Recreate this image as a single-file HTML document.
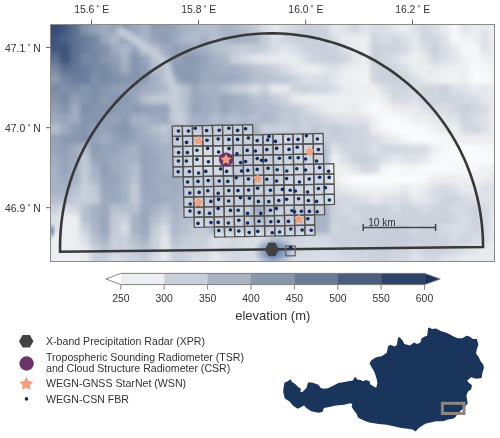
<!DOCTYPE html><html><head><meta charset="utf-8"><style>
html,body{margin:0;padding:0;background:#fff;}
body{width:500px;height:438px;overflow:hidden;position:relative;font-family:"Liberation Sans",sans-serif;}
svg{position:absolute;left:0;top:0;will-change:transform;}
</style></head><body>
<svg width="500" height="438" viewBox="0 0 500 438" font-family="Liberation Sans, sans-serif">
<defs>
<clipPath id="mc"><rect x="50.5" y="24.5" width="444.0" height="237.0"/></clipPath>
<filter id="bl" x="-5%" y="-5%" width="110%" height="110%"><feGaussianBlur stdDeviation="2.5"/></filter>
<radialGradient id="blob"><stop offset="0" stop-color="#2f5594" stop-opacity="0.75"/><stop offset="0.5" stop-color="#4a6ea8" stop-opacity="0.45"/><stop offset="1" stop-color="#7f98c0" stop-opacity="0"/></radialGradient>
<radialGradient id="blob2"><stop offset="0" stop-color="#3d5f96" stop-opacity="0.7"/><stop offset="1" stop-color="#6f8ab5" stop-opacity="0"/></radialGradient>
</defs>
<g clip-path="url(#mc)"><g filter="url(#bl)">
<rect x="40" y="14" width="20" height="20" fill="#354c74"/>
<rect x="60" y="14" width="10" height="20" fill="#43597f"/>
<rect x="70" y="14" width="10" height="20" fill="#5b6f90"/>
<rect x="80" y="14" width="10" height="20" fill="#8595ae"/>
<rect x="90" y="14" width="10" height="20" fill="#95a3b9"/>
<rect x="100" y="14" width="10" height="20" fill="#9fabc0"/>
<rect x="110" y="14" width="10" height="20" fill="#95a3b9"/>
<rect x="120" y="14" width="10" height="20" fill="#8595ae"/>
<rect x="130" y="14" width="10" height="20" fill="#9ba9bd"/>
<rect x="140" y="14" width="10" height="20" fill="#a5b1c4"/>
<rect x="150" y="14" width="10" height="20" fill="#8f9db5"/>
<rect x="160" y="14" width="10" height="20" fill="#92a0b7"/>
<rect x="170" y="14" width="10" height="20" fill="#98a6bb"/>
<rect x="180" y="14" width="10" height="20" fill="#a5b1c4"/>
<rect x="190" y="14" width="10" height="20" fill="#acb7c9"/>
<rect x="200" y="14" width="10" height="20" fill="#b3bdcd"/>
<rect x="210" y="14" width="10" height="20" fill="#b3bdcd"/>
<rect x="220" y="14" width="10" height="20" fill="#a5b1c4"/>
<rect x="230" y="14" width="10" height="20" fill="#acb7c9"/>
<rect x="240" y="14" width="10" height="20" fill="#b7c0d0"/>
<rect x="250" y="14" width="10" height="20" fill="#c2cad6"/>
<rect x="260" y="14" width="10" height="20" fill="#d7dce4"/>
<rect x="270" y="14" width="10" height="20" fill="#e5e8ed"/>
<rect x="280" y="14" width="10" height="20" fill="#dadfe6"/>
<rect x="290" y="14" width="10" height="20" fill="#d0d6df"/>
<rect x="300" y="14" width="10" height="20" fill="#c9d0db"/>
<rect x="310" y="14" width="10" height="20" fill="#c9d0db"/>
<rect x="320" y="14" width="10" height="20" fill="#ccd3dd"/>
<rect x="330" y="14" width="10" height="20" fill="#e5e8ed"/>
<rect x="340" y="14" width="10" height="20" fill="#dee2e8"/>
<rect x="350" y="14" width="10" height="20" fill="#d0d6df"/>
<rect x="360" y="14" width="10" height="20" fill="#e2e5ea"/>
<rect x="370" y="14" width="10" height="20" fill="#dadfe6"/>
<rect x="380" y="14" width="10" height="20" fill="#dadfe6"/>
<rect x="390" y="14" width="10" height="20" fill="#e5e8ed"/>
<rect x="400" y="14" width="10" height="20" fill="#eceef1"/>
<rect x="410" y="14" width="10" height="20" fill="#dee2e8"/>
<rect x="420" y="14" width="10" height="20" fill="#d0d6df"/>
<rect x="430" y="14" width="10" height="20" fill="#dadfe6"/>
<rect x="440" y="14" width="10" height="20" fill="#e8ebef"/>
<rect x="450" y="14" width="10" height="20" fill="#f7f8f9"/>
<rect x="460" y="14" width="10" height="20" fill="#e2e5ea"/>
<rect x="470" y="14" width="10" height="20" fill="#eceef1"/>
<rect x="480" y="14" width="10" height="20" fill="#e2e5ea"/>
<rect x="490" y="14" width="30" height="20" fill="#eceef1"/>
<rect x="40" y="34" width="20" height="10" fill="#3e547b"/>
<rect x="60" y="34" width="10" height="10" fill="#4c6186"/>
<rect x="70" y="34" width="10" height="10" fill="#5b6f90"/>
<rect x="80" y="34" width="10" height="10" fill="#6a7d9b"/>
<rect x="90" y="34" width="10" height="10" fill="#7889a4"/>
<rect x="100" y="34" width="10" height="10" fill="#9ba9bd"/>
<rect x="110" y="34" width="10" height="10" fill="#acb7c9"/>
<rect x="120" y="34" width="10" height="10" fill="#92a0b7"/>
<rect x="130" y="34" width="10" height="10" fill="#9fabc0"/>
<rect x="140" y="34" width="10" height="10" fill="#a9b4c6"/>
<rect x="150" y="34" width="10" height="10" fill="#95a3b9"/>
<rect x="160" y="34" width="10" height="10" fill="#8b9bb2"/>
<rect x="170" y="34" width="10" height="10" fill="#9fabc0"/>
<rect x="180" y="34" width="10" height="10" fill="#acb7c9"/>
<rect x="190" y="34" width="10" height="10" fill="#b3bdcd"/>
<rect x="200" y="34" width="10" height="10" fill="#a5b1c4"/>
<rect x="210" y="34" width="10" height="10" fill="#b7c0d0"/>
<rect x="220" y="34" width="10" height="10" fill="#acb7c9"/>
<rect x="230" y="34" width="10" height="10" fill="#9fabc0"/>
<rect x="240" y="34" width="10" height="10" fill="#a5b1c4"/>
<rect x="250" y="34" width="10" height="10" fill="#a9b4c6"/>
<rect x="260" y="34" width="10" height="10" fill="#c2cad6"/>
<rect x="270" y="34" width="10" height="10" fill="#dadfe6"/>
<rect x="280" y="34" width="10" height="10" fill="#d0d6df"/>
<rect x="290" y="34" width="10" height="10" fill="#c9d0db"/>
<rect x="300" y="34" width="10" height="10" fill="#c9d0db"/>
<rect x="310" y="34" width="10" height="10" fill="#c9d0db"/>
<rect x="320" y="34" width="10" height="10" fill="#c9d0db"/>
<rect x="330" y="34" width="10" height="10" fill="#dadfe6"/>
<rect x="340" y="34" width="10" height="10" fill="#e8ebef"/>
<rect x="350" y="34" width="10" height="10" fill="#e8ebef"/>
<rect x="360" y="34" width="10" height="10" fill="#eceef1"/>
<rect x="370" y="34" width="10" height="10" fill="#d0d6df"/>
<rect x="380" y="34" width="10" height="10" fill="#d7dce4"/>
<rect x="390" y="34" width="10" height="10" fill="#d0d6df"/>
<rect x="400" y="34" width="10" height="10" fill="#dadfe6"/>
<rect x="410" y="34" width="10" height="10" fill="#e5e8ed"/>
<rect x="420" y="34" width="10" height="10" fill="#d0d6df"/>
<rect x="430" y="34" width="10" height="10" fill="#d0d6df"/>
<rect x="440" y="34" width="10" height="10" fill="#dee2e8"/>
<rect x="450" y="34" width="10" height="10" fill="#f7f8f9"/>
<rect x="460" y="34" width="10" height="10" fill="#f2f3f5"/>
<rect x="470" y="34" width="10" height="10" fill="#eceef1"/>
<rect x="480" y="34" width="10" height="10" fill="#dee2e8"/>
<rect x="490" y="34" width="30" height="10" fill="#eceef1"/>
<rect x="40" y="44" width="20" height="10" fill="#43597f"/>
<rect x="60" y="44" width="10" height="10" fill="#3e547b"/>
<rect x="70" y="44" width="10" height="10" fill="#5b6f90"/>
<rect x="80" y="44" width="10" height="10" fill="#6a7d9b"/>
<rect x="90" y="44" width="10" height="10" fill="#7889a4"/>
<rect x="100" y="44" width="10" height="10" fill="#8090aa"/>
<rect x="110" y="44" width="10" height="10" fill="#9fabc0"/>
<rect x="120" y="44" width="10" height="10" fill="#acb7c9"/>
<rect x="130" y="44" width="10" height="10" fill="#95a3b9"/>
<rect x="140" y="44" width="10" height="10" fill="#bec7d4"/>
<rect x="150" y="44" width="10" height="10" fill="#b3bdcd"/>
<rect x="160" y="44" width="10" height="10" fill="#9fabc0"/>
<rect x="170" y="44" width="10" height="10" fill="#92a0b7"/>
<rect x="180" y="44" width="10" height="10" fill="#98a6bb"/>
<rect x="190" y="44" width="10" height="10" fill="#9ba9bd"/>
<rect x="200" y="44" width="10" height="10" fill="#a5b1c4"/>
<rect x="210" y="44" width="10" height="10" fill="#b3bdcd"/>
<rect x="220" y="44" width="10" height="10" fill="#bbc4d2"/>
<rect x="230" y="44" width="10" height="10" fill="#c2cad6"/>
<rect x="240" y="44" width="10" height="10" fill="#c9d0db"/>
<rect x="250" y="44" width="10" height="10" fill="#c2cad6"/>
<rect x="260" y="44" width="10" height="10" fill="#c9d0db"/>
<rect x="270" y="44" width="10" height="10" fill="#d7dce4"/>
<rect x="280" y="44" width="10" height="10" fill="#e2e5ea"/>
<rect x="290" y="44" width="10" height="10" fill="#d7dce4"/>
<rect x="300" y="44" width="10" height="10" fill="#ccd3dd"/>
<rect x="310" y="44" width="10" height="10" fill="#c9d0db"/>
<rect x="320" y="44" width="10" height="10" fill="#c9d0db"/>
<rect x="330" y="44" width="10" height="10" fill="#ccd3dd"/>
<rect x="340" y="44" width="10" height="10" fill="#dadfe6"/>
<rect x="350" y="44" width="10" height="10" fill="#e8ebef"/>
<rect x="360" y="44" width="10" height="10" fill="#eceef1"/>
<rect x="370" y="44" width="10" height="10" fill="#c9d0db"/>
<rect x="380" y="44" width="10" height="10" fill="#ccd3dd"/>
<rect x="390" y="44" width="10" height="10" fill="#ccd3dd"/>
<rect x="400" y="44" width="10" height="10" fill="#d4d9e2"/>
<rect x="410" y="44" width="10" height="10" fill="#e5e8ed"/>
<rect x="420" y="44" width="10" height="10" fill="#dadfe6"/>
<rect x="430" y="44" width="10" height="10" fill="#c9d0db"/>
<rect x="440" y="44" width="10" height="10" fill="#dadfe6"/>
<rect x="450" y="44" width="10" height="10" fill="#e5e8ed"/>
<rect x="460" y="44" width="10" height="10" fill="#f7f8f9"/>
<rect x="470" y="44" width="10" height="10" fill="#f4f5f7"/>
<rect x="480" y="44" width="10" height="10" fill="#dee2e8"/>
<rect x="490" y="44" width="30" height="10" fill="#eceef1"/>
<rect x="40" y="54" width="20" height="10" fill="#5b6f90"/>
<rect x="60" y="54" width="10" height="10" fill="#3e547b"/>
<rect x="70" y="54" width="10" height="10" fill="#5b6f90"/>
<rect x="80" y="54" width="10" height="10" fill="#7889a4"/>
<rect x="90" y="54" width="10" height="10" fill="#7587a3"/>
<rect x="100" y="54" width="10" height="10" fill="#8595ae"/>
<rect x="110" y="54" width="10" height="10" fill="#92a0b7"/>
<rect x="120" y="54" width="10" height="10" fill="#a5b1c4"/>
<rect x="130" y="54" width="10" height="10" fill="#8595ae"/>
<rect x="140" y="54" width="10" height="10" fill="#98a6bb"/>
<rect x="150" y="54" width="10" height="10" fill="#b7c0d0"/>
<rect x="160" y="54" width="10" height="10" fill="#a5b1c4"/>
<rect x="170" y="54" width="10" height="10" fill="#95a3b9"/>
<rect x="180" y="54" width="10" height="10" fill="#8b9bb2"/>
<rect x="190" y="54" width="10" height="10" fill="#8b9bb2"/>
<rect x="200" y="54" width="10" height="10" fill="#95a3b9"/>
<rect x="210" y="54" width="10" height="10" fill="#a5b1c4"/>
<rect x="220" y="54" width="10" height="10" fill="#acb7c9"/>
<rect x="230" y="54" width="10" height="10" fill="#c9d0db"/>
<rect x="240" y="54" width="10" height="10" fill="#d4d9e2"/>
<rect x="250" y="54" width="10" height="10" fill="#e2e5ea"/>
<rect x="260" y="54" width="10" height="10" fill="#e5e8ed"/>
<rect x="270" y="54" width="10" height="10" fill="#e8ebef"/>
<rect x="280" y="54" width="10" height="10" fill="#e8ebef"/>
<rect x="290" y="54" width="10" height="10" fill="#e8ebef"/>
<rect x="300" y="54" width="10" height="10" fill="#dadfe6"/>
<rect x="310" y="54" width="10" height="10" fill="#ccd3dd"/>
<rect x="320" y="54" width="10" height="10" fill="#c9d0db"/>
<rect x="330" y="54" width="10" height="10" fill="#c9d0db"/>
<rect x="340" y="54" width="10" height="10" fill="#d0d6df"/>
<rect x="350" y="54" width="10" height="10" fill="#e2e5ea"/>
<rect x="360" y="54" width="10" height="10" fill="#eceef1"/>
<rect x="370" y="54" width="10" height="10" fill="#c9d0db"/>
<rect x="380" y="54" width="10" height="10" fill="#d0d6df"/>
<rect x="390" y="54" width="10" height="10" fill="#dadfe6"/>
<rect x="400" y="54" width="10" height="10" fill="#e5e8ed"/>
<rect x="410" y="54" width="10" height="10" fill="#f0f1f4"/>
<rect x="420" y="54" width="10" height="10" fill="#e5e8ed"/>
<rect x="430" y="54" width="10" height="10" fill="#d0d6df"/>
<rect x="440" y="54" width="10" height="10" fill="#dadfe6"/>
<rect x="450" y="54" width="10" height="10" fill="#e2e5ea"/>
<rect x="460" y="54" width="10" height="10" fill="#eef0f2"/>
<rect x="470" y="54" width="10" height="10" fill="#f7f8f9"/>
<rect x="480" y="54" width="10" height="10" fill="#eceef1"/>
<rect x="490" y="54" width="30" height="10" fill="#eceef1"/>
<rect x="40" y="64" width="20" height="10" fill="#7889a4"/>
<rect x="60" y="64" width="10" height="10" fill="#5b6f90"/>
<rect x="70" y="64" width="10" height="10" fill="#647797"/>
<rect x="80" y="64" width="10" height="10" fill="#6a7d9b"/>
<rect x="90" y="64" width="10" height="10" fill="#7889a4"/>
<rect x="100" y="64" width="10" height="10" fill="#7889a4"/>
<rect x="110" y="64" width="10" height="10" fill="#8595ae"/>
<rect x="120" y="64" width="10" height="10" fill="#9fabc0"/>
<rect x="130" y="64" width="10" height="10" fill="#8595ae"/>
<rect x="140" y="64" width="10" height="10" fill="#8b9bb2"/>
<rect x="150" y="64" width="10" height="10" fill="#b3bdcd"/>
<rect x="160" y="64" width="10" height="10" fill="#acb7c9"/>
<rect x="170" y="64" width="10" height="10" fill="#8b9bb2"/>
<rect x="180" y="64" width="10" height="10" fill="#8b9bb2"/>
<rect x="190" y="64" width="10" height="10" fill="#8f9db5"/>
<rect x="200" y="64" width="10" height="10" fill="#98a6bb"/>
<rect x="210" y="64" width="10" height="10" fill="#9fabc0"/>
<rect x="220" y="64" width="10" height="10" fill="#a5b1c4"/>
<rect x="230" y="64" width="10" height="10" fill="#a5b1c4"/>
<rect x="240" y="64" width="10" height="10" fill="#acb7c9"/>
<rect x="250" y="64" width="10" height="10" fill="#b7c0d0"/>
<rect x="260" y="64" width="10" height="10" fill="#bec7d4"/>
<rect x="270" y="64" width="10" height="10" fill="#c9d0db"/>
<rect x="280" y="64" width="10" height="10" fill="#d7dce4"/>
<rect x="290" y="64" width="10" height="10" fill="#e5e8ed"/>
<rect x="300" y="64" width="10" height="10" fill="#e8ebef"/>
<rect x="310" y="64" width="10" height="10" fill="#eceef1"/>
<rect x="320" y="64" width="10" height="10" fill="#e2e5ea"/>
<rect x="330" y="64" width="10" height="10" fill="#dee2e8"/>
<rect x="340" y="64" width="10" height="10" fill="#e8ebef"/>
<rect x="350" y="64" width="10" height="10" fill="#eceef1"/>
<rect x="360" y="64" width="10" height="10" fill="#eef0f2"/>
<rect x="370" y="64" width="10" height="10" fill="#d0d6df"/>
<rect x="380" y="64" width="10" height="10" fill="#ccd3dd"/>
<rect x="390" y="64" width="10" height="10" fill="#d0d6df"/>
<rect x="400" y="64" width="10" height="10" fill="#dadfe6"/>
<rect x="410" y="64" width="10" height="10" fill="#e8ebef"/>
<rect x="420" y="64" width="10" height="10" fill="#eceef1"/>
<rect x="430" y="64" width="10" height="10" fill="#e5e8ed"/>
<rect x="440" y="64" width="10" height="10" fill="#eceef1"/>
<rect x="450" y="64" width="10" height="10" fill="#eceef1"/>
<rect x="460" y="64" width="10" height="10" fill="#eef0f2"/>
<rect x="470" y="64" width="10" height="10" fill="#f9fafb"/>
<rect x="480" y="64" width="10" height="10" fill="#f4f5f7"/>
<rect x="490" y="64" width="30" height="10" fill="#f2f3f5"/>
<rect x="40" y="74" width="20" height="10" fill="#8b9bb2"/>
<rect x="60" y="74" width="10" height="10" fill="#7587a3"/>
<rect x="70" y="74" width="10" height="10" fill="#6a7d9b"/>
<rect x="80" y="74" width="10" height="10" fill="#6a7d9b"/>
<rect x="90" y="74" width="10" height="10" fill="#8090aa"/>
<rect x="100" y="74" width="10" height="10" fill="#7889a4"/>
<rect x="110" y="74" width="10" height="10" fill="#8090aa"/>
<rect x="120" y="74" width="10" height="10" fill="#8595ae"/>
<rect x="130" y="74" width="10" height="10" fill="#8595ae"/>
<rect x="140" y="74" width="10" height="10" fill="#8b9bb2"/>
<rect x="150" y="74" width="10" height="10" fill="#a5b1c4"/>
<rect x="160" y="74" width="10" height="10" fill="#b7c0d0"/>
<rect x="170" y="74" width="10" height="10" fill="#95a3b9"/>
<rect x="180" y="74" width="10" height="10" fill="#8b9bb2"/>
<rect x="190" y="74" width="10" height="10" fill="#8b9bb2"/>
<rect x="200" y="74" width="10" height="10" fill="#9fabc0"/>
<rect x="210" y="74" width="10" height="10" fill="#9ba9bd"/>
<rect x="220" y="74" width="10" height="10" fill="#9ba9bd"/>
<rect x="230" y="74" width="10" height="10" fill="#9fabc0"/>
<rect x="240" y="74" width="10" height="10" fill="#a5b1c4"/>
<rect x="250" y="74" width="10" height="10" fill="#b3bdcd"/>
<rect x="260" y="74" width="10" height="10" fill="#b7c0d0"/>
<rect x="270" y="74" width="10" height="10" fill="#bbc4d2"/>
<rect x="280" y="74" width="10" height="10" fill="#bec7d4"/>
<rect x="290" y="74" width="10" height="10" fill="#c9d0db"/>
<rect x="300" y="74" width="10" height="10" fill="#dadfe6"/>
<rect x="310" y="74" width="10" height="10" fill="#dadfe6"/>
<rect x="320" y="74" width="10" height="10" fill="#d7dce4"/>
<rect x="330" y="74" width="10" height="10" fill="#e5e8ed"/>
<rect x="340" y="74" width="10" height="10" fill="#eceef1"/>
<rect x="350" y="74" width="10" height="10" fill="#f0f1f4"/>
<rect x="360" y="74" width="10" height="10" fill="#f2f3f5"/>
<rect x="370" y="74" width="10" height="10" fill="#d0d6df"/>
<rect x="380" y="74" width="10" height="10" fill="#c9d0db"/>
<rect x="390" y="74" width="10" height="10" fill="#c9d0db"/>
<rect x="400" y="74" width="10" height="10" fill="#d0d6df"/>
<rect x="410" y="74" width="10" height="10" fill="#dadfe6"/>
<rect x="420" y="74" width="10" height="10" fill="#e5e8ed"/>
<rect x="430" y="74" width="10" height="10" fill="#eceef1"/>
<rect x="440" y="74" width="10" height="10" fill="#f0f1f4"/>
<rect x="450" y="74" width="10" height="10" fill="#f0f1f4"/>
<rect x="460" y="74" width="10" height="10" fill="#eceef1"/>
<rect x="470" y="74" width="10" height="10" fill="#f9fafb"/>
<rect x="480" y="74" width="10" height="10" fill="#f9fafb"/>
<rect x="490" y="74" width="30" height="10" fill="#f7f8f9"/>
<rect x="40" y="84" width="20" height="10" fill="#7889a4"/>
<rect x="60" y="84" width="10" height="10" fill="#8090aa"/>
<rect x="70" y="84" width="10" height="10" fill="#7d8ea8"/>
<rect x="80" y="84" width="10" height="10" fill="#8595ae"/>
<rect x="90" y="84" width="10" height="10" fill="#7d8ea8"/>
<rect x="100" y="84" width="10" height="10" fill="#8595ae"/>
<rect x="110" y="84" width="10" height="10" fill="#8f9db5"/>
<rect x="120" y="84" width="10" height="10" fill="#92a0b7"/>
<rect x="130" y="84" width="10" height="10" fill="#95a3b9"/>
<rect x="140" y="84" width="10" height="10" fill="#9fabc0"/>
<rect x="150" y="84" width="10" height="10" fill="#a5b1c4"/>
<rect x="160" y="84" width="10" height="10" fill="#b0bacb"/>
<rect x="170" y="84" width="10" height="10" fill="#c5cdd9"/>
<rect x="180" y="84" width="10" height="10" fill="#b7c0d0"/>
<rect x="190" y="84" width="10" height="10" fill="#9ba9bd"/>
<rect x="200" y="84" width="10" height="10" fill="#a5b1c4"/>
<rect x="210" y="84" width="10" height="10" fill="#a5b1c4"/>
<rect x="220" y="84" width="10" height="10" fill="#b3bdcd"/>
<rect x="230" y="84" width="10" height="10" fill="#c2cad6"/>
<rect x="240" y="84" width="10" height="10" fill="#c9d0db"/>
<rect x="250" y="84" width="10" height="10" fill="#d7dce4"/>
<rect x="260" y="84" width="10" height="10" fill="#c9d0db"/>
<rect x="270" y="84" width="10" height="10" fill="#e5e8ed"/>
<rect x="280" y="84" width="10" height="10" fill="#e5e8ed"/>
<rect x="290" y="84" width="10" height="10" fill="#d0d6df"/>
<rect x="300" y="84" width="10" height="10" fill="#c9d0db"/>
<rect x="310" y="84" width="10" height="10" fill="#d0d6df"/>
<rect x="320" y="84" width="10" height="10" fill="#d0d6df"/>
<rect x="330" y="84" width="10" height="10" fill="#dadfe6"/>
<rect x="340" y="84" width="10" height="10" fill="#e8ebef"/>
<rect x="350" y="84" width="10" height="10" fill="#eceef1"/>
<rect x="360" y="84" width="10" height="10" fill="#eceef1"/>
<rect x="370" y="84" width="10" height="10" fill="#eceef1"/>
<rect x="380" y="84" width="10" height="10" fill="#dadfe6"/>
<rect x="390" y="84" width="10" height="10" fill="#d0d6df"/>
<rect x="400" y="84" width="10" height="10" fill="#d0d6df"/>
<rect x="410" y="84" width="10" height="10" fill="#d7dce4"/>
<rect x="420" y="84" width="10" height="10" fill="#d0d6df"/>
<rect x="430" y="84" width="10" height="10" fill="#d0d6df"/>
<rect x="440" y="84" width="10" height="10" fill="#c9d0db"/>
<rect x="450" y="84" width="10" height="10" fill="#dadfe6"/>
<rect x="460" y="84" width="10" height="10" fill="#dee2e8"/>
<rect x="470" y="84" width="10" height="10" fill="#e8ebef"/>
<rect x="480" y="84" width="10" height="10" fill="#e2e5ea"/>
<rect x="490" y="84" width="30" height="10" fill="#eceef1"/>
<rect x="40" y="94" width="20" height="10" fill="#8595ae"/>
<rect x="60" y="94" width="10" height="10" fill="#7a8ba6"/>
<rect x="70" y="94" width="10" height="10" fill="#92a0b7"/>
<rect x="80" y="94" width="10" height="10" fill="#8595ae"/>
<rect x="90" y="94" width="10" height="10" fill="#8090aa"/>
<rect x="100" y="94" width="10" height="10" fill="#8b9bb2"/>
<rect x="110" y="94" width="10" height="10" fill="#8595ae"/>
<rect x="120" y="94" width="10" height="10" fill="#8b9bb2"/>
<rect x="130" y="94" width="10" height="10" fill="#98a6bb"/>
<rect x="140" y="94" width="10" height="10" fill="#b3bdcd"/>
<rect x="150" y="94" width="10" height="10" fill="#bec7d4"/>
<rect x="160" y="94" width="10" height="10" fill="#c2cad6"/>
<rect x="170" y="94" width="10" height="10" fill="#c9d0db"/>
<rect x="180" y="94" width="10" height="10" fill="#b3bdcd"/>
<rect x="190" y="94" width="10" height="10" fill="#98a6bb"/>
<rect x="200" y="94" width="10" height="10" fill="#9fabc0"/>
<rect x="210" y="94" width="10" height="10" fill="#a5b1c4"/>
<rect x="220" y="94" width="10" height="10" fill="#98a6bb"/>
<rect x="230" y="94" width="10" height="10" fill="#9fabc0"/>
<rect x="240" y="94" width="10" height="10" fill="#a5b1c4"/>
<rect x="250" y="94" width="10" height="10" fill="#b7c0d0"/>
<rect x="260" y="94" width="10" height="10" fill="#b7c0d0"/>
<rect x="270" y="94" width="10" height="10" fill="#c2cad6"/>
<rect x="280" y="94" width="10" height="10" fill="#d0d6df"/>
<rect x="290" y="94" width="10" height="10" fill="#e5e8ed"/>
<rect x="300" y="94" width="10" height="10" fill="#eceef1"/>
<rect x="310" y="94" width="10" height="10" fill="#eceef1"/>
<rect x="320" y="94" width="10" height="10" fill="#eceef1"/>
<rect x="330" y="94" width="10" height="10" fill="#eceef1"/>
<rect x="340" y="94" width="10" height="10" fill="#eceef1"/>
<rect x="350" y="94" width="10" height="10" fill="#eceef1"/>
<rect x="360" y="94" width="10" height="10" fill="#f0f1f4"/>
<rect x="370" y="94" width="10" height="10" fill="#f2f3f5"/>
<rect x="380" y="94" width="10" height="10" fill="#e8ebef"/>
<rect x="390" y="94" width="10" height="10" fill="#d4d9e2"/>
<rect x="400" y="94" width="10" height="10" fill="#d7dce4"/>
<rect x="410" y="94" width="10" height="10" fill="#dadfe6"/>
<rect x="420" y="94" width="10" height="10" fill="#d0d6df"/>
<rect x="430" y="94" width="10" height="10" fill="#d0d6df"/>
<rect x="440" y="94" width="10" height="10" fill="#ccd3dd"/>
<rect x="450" y="94" width="10" height="10" fill="#d0d6df"/>
<rect x="460" y="94" width="10" height="10" fill="#d4d9e2"/>
<rect x="470" y="94" width="10" height="10" fill="#d7dce4"/>
<rect x="480" y="94" width="10" height="10" fill="#e5e8ed"/>
<rect x="490" y="94" width="30" height="10" fill="#e8ebef"/>
<rect x="40" y="104" width="20" height="10" fill="#92a0b7"/>
<rect x="60" y="104" width="10" height="10" fill="#8595ae"/>
<rect x="70" y="104" width="10" height="10" fill="#9fabc0"/>
<rect x="80" y="104" width="10" height="10" fill="#7d8ea8"/>
<rect x="90" y="104" width="10" height="10" fill="#8595ae"/>
<rect x="100" y="104" width="10" height="10" fill="#8595ae"/>
<rect x="110" y="104" width="10" height="10" fill="#8b9bb2"/>
<rect x="120" y="104" width="10" height="10" fill="#92a0b7"/>
<rect x="130" y="104" width="10" height="10" fill="#8b9bb2"/>
<rect x="140" y="104" width="10" height="10" fill="#92a0b7"/>
<rect x="150" y="104" width="10" height="10" fill="#95a3b9"/>
<rect x="160" y="104" width="10" height="10" fill="#95a3b9"/>
<rect x="170" y="104" width="10" height="10" fill="#c2cad6"/>
<rect x="180" y="104" width="10" height="10" fill="#b3bdcd"/>
<rect x="190" y="104" width="10" height="10" fill="#95a3b9"/>
<rect x="200" y="104" width="10" height="10" fill="#9fabc0"/>
<rect x="210" y="104" width="10" height="10" fill="#a5b1c4"/>
<rect x="220" y="104" width="10" height="10" fill="#98a6bb"/>
<rect x="230" y="104" width="10" height="10" fill="#a5b1c4"/>
<rect x="240" y="104" width="10" height="10" fill="#a5b1c4"/>
<rect x="250" y="104" width="10" height="10" fill="#acb7c9"/>
<rect x="260" y="104" width="10" height="10" fill="#b3bdcd"/>
<rect x="270" y="104" width="10" height="10" fill="#b3bdcd"/>
<rect x="280" y="104" width="10" height="10" fill="#bec7d4"/>
<rect x="290" y="104" width="10" height="10" fill="#c2cad6"/>
<rect x="300" y="104" width="10" height="10" fill="#d0d6df"/>
<rect x="310" y="104" width="10" height="10" fill="#dee2e8"/>
<rect x="320" y="104" width="10" height="10" fill="#e8ebef"/>
<rect x="330" y="104" width="10" height="10" fill="#eceef1"/>
<rect x="340" y="104" width="10" height="10" fill="#eceef1"/>
<rect x="350" y="104" width="10" height="10" fill="#e8ebef"/>
<rect x="360" y="104" width="10" height="10" fill="#f4f5f7"/>
<rect x="370" y="104" width="10" height="10" fill="#f9fafb"/>
<rect x="380" y="104" width="10" height="10" fill="#f4f5f7"/>
<rect x="390" y="104" width="10" height="10" fill="#eceef1"/>
<rect x="400" y="104" width="10" height="10" fill="#e5e8ed"/>
<rect x="410" y="104" width="10" height="10" fill="#e8ebef"/>
<rect x="420" y="104" width="10" height="10" fill="#dee2e8"/>
<rect x="430" y="104" width="10" height="10" fill="#d4d9e2"/>
<rect x="440" y="104" width="10" height="10" fill="#dadfe6"/>
<rect x="450" y="104" width="10" height="10" fill="#d0d6df"/>
<rect x="460" y="104" width="10" height="10" fill="#c9d0db"/>
<rect x="470" y="104" width="10" height="10" fill="#d0d6df"/>
<rect x="480" y="104" width="10" height="10" fill="#d7dce4"/>
<rect x="490" y="104" width="30" height="10" fill="#e8ebef"/>
<rect x="40" y="114" width="20" height="10" fill="#9ba9bd"/>
<rect x="60" y="114" width="10" height="10" fill="#95a3b9"/>
<rect x="70" y="114" width="10" height="10" fill="#9fabc0"/>
<rect x="80" y="114" width="10" height="10" fill="#8595ae"/>
<rect x="90" y="114" width="10" height="10" fill="#8595ae"/>
<rect x="100" y="114" width="10" height="10" fill="#8f9db5"/>
<rect x="110" y="114" width="10" height="10" fill="#95a3b9"/>
<rect x="120" y="114" width="10" height="10" fill="#8b9bb2"/>
<rect x="130" y="114" width="10" height="10" fill="#a5b1c4"/>
<rect x="140" y="114" width="10" height="10" fill="#a5b1c4"/>
<rect x="150" y="114" width="10" height="10" fill="#9fabc0"/>
<rect x="160" y="114" width="10" height="10" fill="#98a6bb"/>
<rect x="170" y="114" width="10" height="10" fill="#c2cad6"/>
<rect x="180" y="114" width="10" height="10" fill="#b3bdcd"/>
<rect x="190" y="114" width="10" height="10" fill="#a5b1c4"/>
<rect x="200" y="114" width="10" height="10" fill="#a5b1c4"/>
<rect x="210" y="114" width="10" height="10" fill="#b3bdcd"/>
<rect x="220" y="114" width="10" height="10" fill="#acb7c9"/>
<rect x="230" y="114" width="10" height="10" fill="#b7c0d0"/>
<rect x="240" y="114" width="10" height="10" fill="#acb7c9"/>
<rect x="250" y="114" width="10" height="10" fill="#b7c0d0"/>
<rect x="260" y="114" width="10" height="10" fill="#acb7c9"/>
<rect x="270" y="114" width="10" height="10" fill="#b3bdcd"/>
<rect x="280" y="114" width="10" height="10" fill="#c2cad6"/>
<rect x="290" y="114" width="10" height="10" fill="#bec7d4"/>
<rect x="300" y="114" width="10" height="10" fill="#c9d0db"/>
<rect x="310" y="114" width="10" height="10" fill="#c9d0db"/>
<rect x="320" y="114" width="10" height="10" fill="#d0d6df"/>
<rect x="330" y="114" width="10" height="10" fill="#dadfe6"/>
<rect x="340" y="114" width="10" height="10" fill="#dee2e8"/>
<rect x="350" y="114" width="10" height="10" fill="#dee2e8"/>
<rect x="360" y="114" width="10" height="10" fill="#e2e5ea"/>
<rect x="370" y="114" width="10" height="10" fill="#f0f1f4"/>
<rect x="380" y="114" width="10" height="10" fill="#f9fafb"/>
<rect x="390" y="114" width="10" height="10" fill="#f9fafb"/>
<rect x="400" y="114" width="10" height="10" fill="#f6f6f8"/>
<rect x="410" y="114" width="10" height="10" fill="#eceef1"/>
<rect x="420" y="114" width="10" height="10" fill="#eceef1"/>
<rect x="430" y="114" width="10" height="10" fill="#e5e8ed"/>
<rect x="440" y="114" width="10" height="10" fill="#e2e5ea"/>
<rect x="450" y="114" width="10" height="10" fill="#dee2e8"/>
<rect x="460" y="114" width="10" height="10" fill="#ccd3dd"/>
<rect x="470" y="114" width="10" height="10" fill="#d7dce4"/>
<rect x="480" y="114" width="10" height="10" fill="#dee2e8"/>
<rect x="490" y="114" width="30" height="10" fill="#eceef1"/>
<rect x="40" y="124" width="20" height="10" fill="#b3bdcd"/>
<rect x="60" y="124" width="10" height="10" fill="#9fabc0"/>
<rect x="70" y="124" width="10" height="10" fill="#8b9bb2"/>
<rect x="80" y="124" width="10" height="10" fill="#8595ae"/>
<rect x="90" y="124" width="10" height="10" fill="#92a0b7"/>
<rect x="100" y="124" width="10" height="10" fill="#95a3b9"/>
<rect x="110" y="124" width="10" height="10" fill="#8b9bb2"/>
<rect x="120" y="124" width="10" height="10" fill="#8595ae"/>
<rect x="130" y="124" width="10" height="10" fill="#98a6bb"/>
<rect x="140" y="124" width="10" height="10" fill="#a5b1c4"/>
<rect x="150" y="124" width="10" height="10" fill="#b3bdcd"/>
<rect x="160" y="124" width="10" height="10" fill="#bec7d4"/>
<rect x="170" y="124" width="10" height="10" fill="#a9b4c6"/>
<rect x="180" y="124" width="10" height="10" fill="#a9b4c6"/>
<rect x="190" y="124" width="10" height="10" fill="#a9b4c6"/>
<rect x="200" y="124" width="10" height="10" fill="#a9b4c6"/>
<rect x="210" y="124" width="10" height="10" fill="#a9b4c6"/>
<rect x="220" y="124" width="10" height="10" fill="#a9b4c6"/>
<rect x="230" y="124" width="10" height="10" fill="#a9b4c6"/>
<rect x="240" y="124" width="10" height="10" fill="#a9b4c6"/>
<rect x="250" y="124" width="10" height="10" fill="#a9b4c6"/>
<rect x="260" y="124" width="10" height="10" fill="#c9d0db"/>
<rect x="270" y="124" width="10" height="10" fill="#c9d0db"/>
<rect x="280" y="124" width="10" height="10" fill="#c9d0db"/>
<rect x="290" y="124" width="10" height="10" fill="#c2cad6"/>
<rect x="300" y="124" width="10" height="10" fill="#c9d0db"/>
<rect x="310" y="124" width="10" height="10" fill="#bec7d4"/>
<rect x="320" y="124" width="10" height="10" fill="#c9d0db"/>
<rect x="330" y="124" width="10" height="10" fill="#c2cad6"/>
<rect x="340" y="124" width="10" height="10" fill="#c9d0db"/>
<rect x="350" y="124" width="10" height="10" fill="#d0d6df"/>
<rect x="360" y="124" width="10" height="10" fill="#d0d6df"/>
<rect x="370" y="124" width="10" height="10" fill="#eceef1"/>
<rect x="380" y="124" width="10" height="10" fill="#f4f5f7"/>
<rect x="390" y="124" width="10" height="10" fill="#fbfcfc"/>
<rect x="400" y="124" width="10" height="10" fill="#fbfcfc"/>
<rect x="410" y="124" width="10" height="10" fill="#f9fafb"/>
<rect x="420" y="124" width="10" height="10" fill="#f6f6f8"/>
<rect x="430" y="124" width="10" height="10" fill="#eef0f2"/>
<rect x="440" y="124" width="10" height="10" fill="#e5e8ed"/>
<rect x="450" y="124" width="10" height="10" fill="#eceef1"/>
<rect x="460" y="124" width="10" height="10" fill="#d4d9e2"/>
<rect x="470" y="124" width="10" height="10" fill="#d0d6df"/>
<rect x="480" y="124" width="10" height="10" fill="#dadfe6"/>
<rect x="490" y="124" width="30" height="10" fill="#eceef1"/>
<rect x="40" y="134" width="20" height="10" fill="#95a3b9"/>
<rect x="60" y="134" width="10" height="10" fill="#8b9bb2"/>
<rect x="70" y="134" width="10" height="10" fill="#8595ae"/>
<rect x="80" y="134" width="10" height="10" fill="#8595ae"/>
<rect x="90" y="134" width="10" height="10" fill="#95a3b9"/>
<rect x="100" y="134" width="10" height="10" fill="#9fabc0"/>
<rect x="110" y="134" width="10" height="10" fill="#95a3b9"/>
<rect x="120" y="134" width="10" height="10" fill="#8b9bb2"/>
<rect x="130" y="134" width="10" height="10" fill="#95a3b9"/>
<rect x="140" y="134" width="10" height="10" fill="#9fabc0"/>
<rect x="150" y="134" width="10" height="10" fill="#a5b1c4"/>
<rect x="160" y="134" width="10" height="10" fill="#b3bdcd"/>
<rect x="170" y="134" width="10" height="10" fill="#a9b4c6"/>
<rect x="180" y="134" width="10" height="10" fill="#a9b4c6"/>
<rect x="190" y="134" width="10" height="10" fill="#a9b4c6"/>
<rect x="200" y="134" width="10" height="10" fill="#a9b4c6"/>
<rect x="210" y="134" width="10" height="10" fill="#a9b4c6"/>
<rect x="220" y="134" width="10" height="10" fill="#a9b4c6"/>
<rect x="230" y="134" width="10" height="10" fill="#a9b4c6"/>
<rect x="240" y="134" width="10" height="10" fill="#a9b4c6"/>
<rect x="250" y="134" width="10" height="10" fill="#a9b4c6"/>
<rect x="260" y="134" width="10" height="10" fill="#a9b4c6"/>
<rect x="270" y="134" width="10" height="10" fill="#a9b4c6"/>
<rect x="280" y="134" width="10" height="10" fill="#b7c0d0"/>
<rect x="290" y="134" width="10" height="10" fill="#b7c0d0"/>
<rect x="300" y="134" width="10" height="10" fill="#b7c0d0"/>
<rect x="310" y="134" width="10" height="10" fill="#b7c0d0"/>
<rect x="320" y="134" width="10" height="10" fill="#c9d0db"/>
<rect x="330" y="134" width="10" height="10" fill="#c9d0db"/>
<rect x="340" y="134" width="10" height="10" fill="#c9d0db"/>
<rect x="350" y="134" width="10" height="10" fill="#d0d6df"/>
<rect x="360" y="134" width="10" height="10" fill="#d0d6df"/>
<rect x="370" y="134" width="10" height="10" fill="#d7dce4"/>
<rect x="380" y="134" width="10" height="10" fill="#e2e5ea"/>
<rect x="390" y="134" width="10" height="10" fill="#eceef1"/>
<rect x="400" y="134" width="10" height="10" fill="#f4f5f7"/>
<rect x="410" y="134" width="10" height="10" fill="#f9fafb"/>
<rect x="420" y="134" width="10" height="10" fill="#fbfcfc"/>
<rect x="430" y="134" width="10" height="10" fill="#f9fafb"/>
<rect x="440" y="134" width="10" height="10" fill="#f6f6f8"/>
<rect x="450" y="134" width="10" height="10" fill="#eceef1"/>
<rect x="460" y="134" width="10" height="10" fill="#eceef1"/>
<rect x="470" y="134" width="10" height="10" fill="#eceef1"/>
<rect x="480" y="134" width="10" height="10" fill="#eceef1"/>
<rect x="490" y="134" width="30" height="10" fill="#eceef1"/>
<rect x="40" y="144" width="20" height="10" fill="#95a3b9"/>
<rect x="60" y="144" width="10" height="10" fill="#92a0b7"/>
<rect x="70" y="144" width="10" height="10" fill="#9fabc0"/>
<rect x="80" y="144" width="10" height="10" fill="#b3bdcd"/>
<rect x="90" y="144" width="10" height="10" fill="#8b9bb2"/>
<rect x="100" y="144" width="10" height="10" fill="#95a3b9"/>
<rect x="110" y="144" width="10" height="10" fill="#95a3b9"/>
<rect x="120" y="144" width="10" height="10" fill="#9fabc0"/>
<rect x="130" y="144" width="10" height="10" fill="#a5b1c4"/>
<rect x="140" y="144" width="10" height="10" fill="#95a3b9"/>
<rect x="150" y="144" width="10" height="10" fill="#9fabc0"/>
<rect x="160" y="144" width="10" height="10" fill="#a5b1c4"/>
<rect x="170" y="144" width="10" height="10" fill="#a9b4c6"/>
<rect x="180" y="144" width="10" height="10" fill="#a9b4c6"/>
<rect x="190" y="144" width="10" height="10" fill="#c2cad6"/>
<rect x="200" y="144" width="10" height="10" fill="#c2cad6"/>
<rect x="210" y="144" width="10" height="10" fill="#c2cad6"/>
<rect x="220" y="144" width="10" height="10" fill="#c2cad6"/>
<rect x="230" y="144" width="10" height="10" fill="#a9b4c6"/>
<rect x="240" y="144" width="10" height="10" fill="#a9b4c6"/>
<rect x="250" y="144" width="10" height="10" fill="#a9b4c6"/>
<rect x="260" y="144" width="10" height="10" fill="#a9b4c6"/>
<rect x="270" y="144" width="10" height="10" fill="#a9b4c6"/>
<rect x="280" y="144" width="10" height="10" fill="#b7c0d0"/>
<rect x="290" y="144" width="10" height="10" fill="#b7c0d0"/>
<rect x="300" y="144" width="10" height="10" fill="#b7c0d0"/>
<rect x="310" y="144" width="10" height="10" fill="#b7c0d0"/>
<rect x="320" y="144" width="10" height="10" fill="#b7c0d0"/>
<rect x="330" y="144" width="10" height="10" fill="#dee2e8"/>
<rect x="340" y="144" width="10" height="10" fill="#d0d6df"/>
<rect x="350" y="144" width="10" height="10" fill="#d0d6df"/>
<rect x="360" y="144" width="10" height="10" fill="#d0d6df"/>
<rect x="370" y="144" width="10" height="10" fill="#dadfe6"/>
<rect x="380" y="144" width="10" height="10" fill="#d0d6df"/>
<rect x="390" y="144" width="10" height="10" fill="#d0d6df"/>
<rect x="400" y="144" width="10" height="10" fill="#d4d9e2"/>
<rect x="410" y="144" width="10" height="10" fill="#d7dce4"/>
<rect x="420" y="144" width="10" height="10" fill="#d7dce4"/>
<rect x="430" y="144" width="10" height="10" fill="#eceef1"/>
<rect x="440" y="144" width="10" height="10" fill="#f7f8f9"/>
<rect x="450" y="144" width="10" height="10" fill="#f9fafb"/>
<rect x="460" y="144" width="10" height="10" fill="#f9fafb"/>
<rect x="470" y="144" width="10" height="10" fill="#f9fafb"/>
<rect x="480" y="144" width="10" height="10" fill="#f7f8f9"/>
<rect x="490" y="144" width="30" height="10" fill="#f7f8f9"/>
<rect x="40" y="154" width="20" height="10" fill="#9fabc0"/>
<rect x="60" y="154" width="10" height="10" fill="#95a3b9"/>
<rect x="70" y="154" width="10" height="10" fill="#9fabc0"/>
<rect x="80" y="154" width="10" height="10" fill="#bec7d4"/>
<rect x="90" y="154" width="10" height="10" fill="#95a3b9"/>
<rect x="100" y="154" width="10" height="10" fill="#95a3b9"/>
<rect x="110" y="154" width="10" height="10" fill="#9fabc0"/>
<rect x="120" y="154" width="10" height="10" fill="#a5b1c4"/>
<rect x="130" y="154" width="10" height="10" fill="#a5b1c4"/>
<rect x="140" y="154" width="10" height="10" fill="#95a3b9"/>
<rect x="150" y="154" width="10" height="10" fill="#98a6bb"/>
<rect x="160" y="154" width="10" height="10" fill="#a5b1c4"/>
<rect x="170" y="154" width="10" height="10" fill="#a9b4c6"/>
<rect x="180" y="154" width="10" height="10" fill="#a9b4c6"/>
<rect x="190" y="154" width="10" height="10" fill="#c2cad6"/>
<rect x="200" y="154" width="10" height="10" fill="#c2cad6"/>
<rect x="210" y="154" width="10" height="10" fill="#c2cad6"/>
<rect x="220" y="154" width="10" height="10" fill="#c2cad6"/>
<rect x="230" y="154" width="10" height="10" fill="#a9b4c6"/>
<rect x="240" y="154" width="10" height="10" fill="#a9b4c6"/>
<rect x="250" y="154" width="10" height="10" fill="#a9b4c6"/>
<rect x="260" y="154" width="10" height="10" fill="#a9b4c6"/>
<rect x="270" y="154" width="10" height="10" fill="#a9b4c6"/>
<rect x="280" y="154" width="10" height="10" fill="#b7c0d0"/>
<rect x="290" y="154" width="10" height="10" fill="#b7c0d0"/>
<rect x="300" y="154" width="10" height="10" fill="#b7c0d0"/>
<rect x="310" y="154" width="10" height="10" fill="#b7c0d0"/>
<rect x="320" y="154" width="10" height="10" fill="#b7c0d0"/>
<rect x="330" y="154" width="10" height="10" fill="#eceef1"/>
<rect x="340" y="154" width="10" height="10" fill="#dadfe6"/>
<rect x="350" y="154" width="10" height="10" fill="#c9d0db"/>
<rect x="360" y="154" width="10" height="10" fill="#c9d0db"/>
<rect x="370" y="154" width="10" height="10" fill="#d0d6df"/>
<rect x="380" y="154" width="10" height="10" fill="#dadfe6"/>
<rect x="390" y="154" width="10" height="10" fill="#e5e8ed"/>
<rect x="400" y="154" width="10" height="10" fill="#dee2e8"/>
<rect x="410" y="154" width="10" height="10" fill="#dee2e8"/>
<rect x="420" y="154" width="10" height="10" fill="#e5e8ed"/>
<rect x="430" y="154" width="10" height="10" fill="#f6f6f8"/>
<rect x="440" y="154" width="10" height="10" fill="#f9fafb"/>
<rect x="450" y="154" width="10" height="10" fill="#f9fafb"/>
<rect x="460" y="154" width="10" height="10" fill="#f9fafb"/>
<rect x="470" y="154" width="10" height="10" fill="#f9fafb"/>
<rect x="480" y="154" width="10" height="10" fill="#f9fafb"/>
<rect x="490" y="154" width="30" height="10" fill="#f9fafb"/>
<rect x="40" y="164" width="20" height="10" fill="#a5b1c4"/>
<rect x="60" y="164" width="10" height="10" fill="#95a3b9"/>
<rect x="70" y="164" width="10" height="10" fill="#a5b1c4"/>
<rect x="80" y="164" width="10" height="10" fill="#c2cad6"/>
<rect x="90" y="164" width="10" height="10" fill="#a5b1c4"/>
<rect x="100" y="164" width="10" height="10" fill="#8f9db5"/>
<rect x="110" y="164" width="10" height="10" fill="#9fabc0"/>
<rect x="120" y="164" width="10" height="10" fill="#a5b1c4"/>
<rect x="130" y="164" width="10" height="10" fill="#b3bdcd"/>
<rect x="140" y="164" width="10" height="10" fill="#95a3b9"/>
<rect x="150" y="164" width="10" height="10" fill="#9ba9bd"/>
<rect x="160" y="164" width="10" height="10" fill="#a5b1c4"/>
<rect x="170" y="164" width="10" height="10" fill="#a9b4c6"/>
<rect x="180" y="164" width="10" height="10" fill="#a9b4c6"/>
<rect x="190" y="164" width="10" height="10" fill="#c2cad6"/>
<rect x="200" y="164" width="10" height="10" fill="#c2cad6"/>
<rect x="210" y="164" width="10" height="10" fill="#c2cad6"/>
<rect x="220" y="164" width="10" height="10" fill="#c2cad6"/>
<rect x="230" y="164" width="10" height="10" fill="#a9b4c6"/>
<rect x="240" y="164" width="10" height="10" fill="#a9b4c6"/>
<rect x="250" y="164" width="10" height="10" fill="#a9b4c6"/>
<rect x="260" y="164" width="10" height="10" fill="#a9b4c6"/>
<rect x="270" y="164" width="10" height="10" fill="#a9b4c6"/>
<rect x="280" y="164" width="10" height="10" fill="#b7c0d0"/>
<rect x="290" y="164" width="10" height="10" fill="#b7c0d0"/>
<rect x="300" y="164" width="10" height="10" fill="#b7c0d0"/>
<rect x="310" y="164" width="10" height="10" fill="#b7c0d0"/>
<rect x="320" y="164" width="10" height="10" fill="#b7c0d0"/>
<rect x="330" y="164" width="10" height="10" fill="#eceef1"/>
<rect x="340" y="164" width="10" height="10" fill="#eceef1"/>
<rect x="350" y="164" width="10" height="10" fill="#e2e5ea"/>
<rect x="360" y="164" width="10" height="10" fill="#d0d6df"/>
<rect x="370" y="164" width="10" height="10" fill="#d7dce4"/>
<rect x="380" y="164" width="10" height="10" fill="#f4f5f7"/>
<rect x="390" y="164" width="10" height="10" fill="#f9fafb"/>
<rect x="400" y="164" width="10" height="10" fill="#f6f6f8"/>
<rect x="410" y="164" width="10" height="10" fill="#f4f5f7"/>
<rect x="420" y="164" width="10" height="10" fill="#f9fafb"/>
<rect x="430" y="164" width="10" height="10" fill="#f9fafb"/>
<rect x="440" y="164" width="10" height="10" fill="#f9fafb"/>
<rect x="450" y="164" width="10" height="10" fill="#f6f6f8"/>
<rect x="460" y="164" width="10" height="10" fill="#f6f6f8"/>
<rect x="470" y="164" width="10" height="10" fill="#f6f6f8"/>
<rect x="480" y="164" width="10" height="10" fill="#f0f1f4"/>
<rect x="490" y="164" width="30" height="10" fill="#f0f1f4"/>
<rect x="40" y="174" width="20" height="10" fill="#a5b1c4"/>
<rect x="60" y="174" width="10" height="10" fill="#9fabc0"/>
<rect x="70" y="174" width="10" height="10" fill="#a5b1c4"/>
<rect x="80" y="174" width="10" height="10" fill="#c2cad6"/>
<rect x="90" y="174" width="10" height="10" fill="#acb7c9"/>
<rect x="100" y="174" width="10" height="10" fill="#95a3b9"/>
<rect x="110" y="174" width="10" height="10" fill="#95a3b9"/>
<rect x="120" y="174" width="10" height="10" fill="#a5b1c4"/>
<rect x="130" y="174" width="10" height="10" fill="#b7c0d0"/>
<rect x="140" y="174" width="10" height="10" fill="#95a3b9"/>
<rect x="150" y="174" width="10" height="10" fill="#9fabc0"/>
<rect x="160" y="174" width="10" height="10" fill="#9fabc0"/>
<rect x="170" y="174" width="10" height="10" fill="#9fabc0"/>
<rect x="180" y="174" width="10" height="10" fill="#a9b4c6"/>
<rect x="190" y="174" width="10" height="10" fill="#a9b4c6"/>
<rect x="200" y="174" width="10" height="10" fill="#a9b4c6"/>
<rect x="210" y="174" width="10" height="10" fill="#a9b4c6"/>
<rect x="220" y="174" width="10" height="10" fill="#a9b4c6"/>
<rect x="230" y="174" width="10" height="10" fill="#a9b4c6"/>
<rect x="240" y="174" width="10" height="10" fill="#a9b4c6"/>
<rect x="250" y="174" width="10" height="10" fill="#a9b4c6"/>
<rect x="260" y="174" width="10" height="10" fill="#a9b4c6"/>
<rect x="270" y="174" width="10" height="10" fill="#a9b4c6"/>
<rect x="280" y="174" width="10" height="10" fill="#b7c0d0"/>
<rect x="290" y="174" width="10" height="10" fill="#b7c0d0"/>
<rect x="300" y="174" width="10" height="10" fill="#b7c0d0"/>
<rect x="310" y="174" width="10" height="10" fill="#b7c0d0"/>
<rect x="320" y="174" width="10" height="10" fill="#b7c0d0"/>
<rect x="330" y="174" width="10" height="10" fill="#eceef1"/>
<rect x="340" y="174" width="10" height="10" fill="#f6f6f8"/>
<rect x="350" y="174" width="10" height="10" fill="#fbfcfc"/>
<rect x="360" y="174" width="10" height="10" fill="#fbfcfc"/>
<rect x="370" y="174" width="10" height="10" fill="#fbfcfc"/>
<rect x="380" y="174" width="10" height="10" fill="#fbfcfc"/>
<rect x="390" y="174" width="10" height="10" fill="#fbfcfc"/>
<rect x="400" y="174" width="10" height="10" fill="#f9fafb"/>
<rect x="410" y="174" width="10" height="10" fill="#f9fafb"/>
<rect x="420" y="174" width="10" height="10" fill="#f7f8f9"/>
<rect x="430" y="174" width="10" height="10" fill="#eceef1"/>
<rect x="440" y="174" width="10" height="10" fill="#eceef1"/>
<rect x="450" y="174" width="10" height="10" fill="#eceef1"/>
<rect x="460" y="174" width="10" height="10" fill="#eef0f2"/>
<rect x="470" y="174" width="10" height="10" fill="#eef0f2"/>
<rect x="480" y="174" width="10" height="10" fill="#eceef1"/>
<rect x="490" y="174" width="30" height="10" fill="#e5e8ed"/>
<rect x="40" y="184" width="20" height="10" fill="#a5b1c4"/>
<rect x="60" y="184" width="10" height="10" fill="#a5b1c4"/>
<rect x="70" y="184" width="10" height="10" fill="#b7c0d0"/>
<rect x="80" y="184" width="10" height="10" fill="#c9d0db"/>
<rect x="90" y="184" width="10" height="10" fill="#bec7d4"/>
<rect x="100" y="184" width="10" height="10" fill="#95a3b9"/>
<rect x="110" y="184" width="10" height="10" fill="#9ba9bd"/>
<rect x="120" y="184" width="10" height="10" fill="#a5b1c4"/>
<rect x="130" y="184" width="10" height="10" fill="#c2cad6"/>
<rect x="140" y="184" width="10" height="10" fill="#98a6bb"/>
<rect x="150" y="184" width="10" height="10" fill="#9ba9bd"/>
<rect x="160" y="184" width="10" height="10" fill="#a5b1c4"/>
<rect x="170" y="184" width="10" height="10" fill="#9fabc0"/>
<rect x="180" y="184" width="10" height="10" fill="#a9b4c6"/>
<rect x="190" y="184" width="10" height="10" fill="#a9b4c6"/>
<rect x="200" y="184" width="10" height="10" fill="#a9b4c6"/>
<rect x="210" y="184" width="10" height="10" fill="#a9b4c6"/>
<rect x="220" y="184" width="10" height="10" fill="#a9b4c6"/>
<rect x="230" y="184" width="10" height="10" fill="#a9b4c6"/>
<rect x="240" y="184" width="10" height="10" fill="#a9b4c6"/>
<rect x="250" y="184" width="10" height="10" fill="#a9b4c6"/>
<rect x="260" y="184" width="10" height="10" fill="#a9b4c6"/>
<rect x="270" y="184" width="10" height="10" fill="#a9b4c6"/>
<rect x="280" y="184" width="10" height="10" fill="#b7c0d0"/>
<rect x="290" y="184" width="10" height="10" fill="#b7c0d0"/>
<rect x="300" y="184" width="10" height="10" fill="#b7c0d0"/>
<rect x="310" y="184" width="10" height="10" fill="#b7c0d0"/>
<rect x="320" y="184" width="10" height="10" fill="#b7c0d0"/>
<rect x="330" y="184" width="10" height="10" fill="#dce0e7"/>
<rect x="340" y="184" width="10" height="10" fill="#e7eaee"/>
<rect x="350" y="184" width="10" height="10" fill="#edeff2"/>
<rect x="360" y="184" width="10" height="10" fill="#f1f2f4"/>
<rect x="370" y="184" width="10" height="10" fill="#f1f2f4"/>
<rect x="380" y="184" width="10" height="10" fill="#f1f2f4"/>
<rect x="390" y="184" width="10" height="10" fill="#edeff2"/>
<rect x="400" y="184" width="10" height="10" fill="#e7eaee"/>
<rect x="410" y="184" width="10" height="10" fill="#f1f2f4"/>
<rect x="420" y="184" width="10" height="10" fill="#e7eaee"/>
<rect x="430" y="184" width="10" height="10" fill="#d9dee5"/>
<rect x="440" y="184" width="10" height="10" fill="#d5dae3"/>
<rect x="450" y="184" width="10" height="10" fill="#dce0e7"/>
<rect x="460" y="184" width="10" height="10" fill="#e7eaee"/>
<rect x="470" y="184" width="10" height="10" fill="#e7eaee"/>
<rect x="480" y="184" width="10" height="10" fill="#d9dee5"/>
<rect x="490" y="184" width="30" height="10" fill="#dce0e7"/>
<rect x="40" y="194" width="20" height="10" fill="#b3bdcd"/>
<rect x="60" y="194" width="10" height="10" fill="#b3bdcd"/>
<rect x="70" y="194" width="10" height="10" fill="#c2cad6"/>
<rect x="80" y="194" width="10" height="10" fill="#c9d0db"/>
<rect x="90" y="194" width="10" height="10" fill="#c2cad6"/>
<rect x="100" y="194" width="10" height="10" fill="#9fabc0"/>
<rect x="110" y="194" width="10" height="10" fill="#98a6bb"/>
<rect x="120" y="194" width="10" height="10" fill="#a5b1c4"/>
<rect x="130" y="194" width="10" height="10" fill="#c2cad6"/>
<rect x="140" y="194" width="10" height="10" fill="#9fabc0"/>
<rect x="150" y="194" width="10" height="10" fill="#98a6bb"/>
<rect x="160" y="194" width="10" height="10" fill="#9fabc0"/>
<rect x="170" y="194" width="10" height="10" fill="#a5b1c4"/>
<rect x="180" y="194" width="10" height="10" fill="#a9b4c6"/>
<rect x="190" y="194" width="10" height="10" fill="#a9b4c6"/>
<rect x="200" y="194" width="10" height="10" fill="#a9b4c6"/>
<rect x="210" y="194" width="10" height="10" fill="#a9b4c6"/>
<rect x="220" y="194" width="10" height="10" fill="#a9b4c6"/>
<rect x="230" y="194" width="10" height="10" fill="#a9b4c6"/>
<rect x="240" y="194" width="10" height="10" fill="#a9b4c6"/>
<rect x="250" y="194" width="10" height="10" fill="#a9b4c6"/>
<rect x="260" y="194" width="10" height="10" fill="#a9b4c6"/>
<rect x="270" y="194" width="10" height="10" fill="#a9b4c6"/>
<rect x="280" y="194" width="10" height="10" fill="#b7c0d0"/>
<rect x="290" y="194" width="10" height="10" fill="#b7c0d0"/>
<rect x="300" y="194" width="10" height="10" fill="#b7c0d0"/>
<rect x="310" y="194" width="10" height="10" fill="#b7c0d0"/>
<rect x="320" y="194" width="10" height="10" fill="#b7c0d0"/>
<rect x="330" y="194" width="10" height="10" fill="#d2d8e0"/>
<rect x="340" y="194" width="10" height="10" fill="#d2d8e0"/>
<rect x="350" y="194" width="10" height="10" fill="#d9dee5"/>
<rect x="360" y="194" width="10" height="10" fill="#dce0e7"/>
<rect x="370" y="194" width="10" height="10" fill="#e7eaee"/>
<rect x="380" y="194" width="10" height="10" fill="#dce0e7"/>
<rect x="390" y="194" width="10" height="10" fill="#dce0e7"/>
<rect x="400" y="194" width="10" height="10" fill="#d5dae3"/>
<rect x="410" y="194" width="10" height="10" fill="#e7eaee"/>
<rect x="420" y="194" width="10" height="10" fill="#e3e6ec"/>
<rect x="430" y="194" width="10" height="10" fill="#d9dee5"/>
<rect x="440" y="194" width="10" height="10" fill="#ced4de"/>
<rect x="450" y="194" width="10" height="10" fill="#ced4de"/>
<rect x="460" y="194" width="10" height="10" fill="#d5dae3"/>
<rect x="470" y="194" width="10" height="10" fill="#dce0e7"/>
<rect x="480" y="194" width="10" height="10" fill="#e0e4e9"/>
<rect x="490" y="194" width="30" height="10" fill="#e0e4e9"/>
<rect x="40" y="204" width="20" height="10" fill="#c9d0db"/>
<rect x="60" y="204" width="10" height="10" fill="#d7dce4"/>
<rect x="70" y="204" width="10" height="10" fill="#d0d6df"/>
<rect x="80" y="204" width="10" height="10" fill="#b7c0d0"/>
<rect x="90" y="204" width="10" height="10" fill="#a5b1c4"/>
<rect x="100" y="204" width="10" height="10" fill="#9ba9bd"/>
<rect x="110" y="204" width="10" height="10" fill="#b7c0d0"/>
<rect x="120" y="204" width="10" height="10" fill="#b3bdcd"/>
<rect x="130" y="204" width="10" height="10" fill="#b7c0d0"/>
<rect x="140" y="204" width="10" height="10" fill="#9ba9bd"/>
<rect x="150" y="204" width="10" height="10" fill="#a5b1c4"/>
<rect x="160" y="204" width="10" height="10" fill="#b3bdcd"/>
<rect x="170" y="204" width="10" height="10" fill="#a5b1c4"/>
<rect x="180" y="204" width="10" height="10" fill="#b3bdcd"/>
<rect x="190" y="204" width="10" height="10" fill="#a9b4c6"/>
<rect x="200" y="204" width="10" height="10" fill="#a9b4c6"/>
<rect x="210" y="204" width="10" height="10" fill="#a9b4c6"/>
<rect x="220" y="204" width="10" height="10" fill="#a9b4c6"/>
<rect x="230" y="204" width="10" height="10" fill="#a9b4c6"/>
<rect x="240" y="204" width="10" height="10" fill="#a9b4c6"/>
<rect x="250" y="204" width="10" height="10" fill="#8b9bb2"/>
<rect x="260" y="204" width="10" height="10" fill="#8b9bb2"/>
<rect x="270" y="204" width="10" height="10" fill="#a9b4c6"/>
<rect x="280" y="204" width="10" height="10" fill="#a9b4c6"/>
<rect x="290" y="204" width="10" height="10" fill="#a9b4c6"/>
<rect x="300" y="204" width="10" height="10" fill="#a9b4c6"/>
<rect x="310" y="204" width="10" height="10" fill="#a9b4c6"/>
<rect x="320" y="204" width="10" height="10" fill="#a9b4c6"/>
<rect x="330" y="204" width="10" height="10" fill="#cbd2dc"/>
<rect x="340" y="204" width="10" height="10" fill="#d5dae3"/>
<rect x="350" y="204" width="10" height="10" fill="#ced4de"/>
<rect x="360" y="204" width="10" height="10" fill="#cbd2dc"/>
<rect x="370" y="204" width="10" height="10" fill="#cbd2dc"/>
<rect x="380" y="204" width="10" height="10" fill="#cbd2dc"/>
<rect x="390" y="204" width="10" height="10" fill="#d5dae3"/>
<rect x="400" y="204" width="10" height="10" fill="#cbd2dc"/>
<rect x="410" y="204" width="10" height="10" fill="#ced4de"/>
<rect x="420" y="204" width="10" height="10" fill="#d5dae3"/>
<rect x="430" y="204" width="10" height="10" fill="#ced4de"/>
<rect x="440" y="204" width="10" height="10" fill="#cbd2dc"/>
<rect x="450" y="204" width="10" height="10" fill="#d5dae3"/>
<rect x="460" y="204" width="10" height="10" fill="#d2d8e0"/>
<rect x="470" y="204" width="10" height="10" fill="#ced4de"/>
<rect x="480" y="204" width="10" height="10" fill="#d5dae3"/>
<rect x="490" y="204" width="30" height="10" fill="#e0e4e9"/>
<rect x="40" y="214" width="20" height="10" fill="#dadfe6"/>
<rect x="60" y="214" width="10" height="10" fill="#eceef1"/>
<rect x="70" y="214" width="10" height="10" fill="#eceef1"/>
<rect x="80" y="214" width="10" height="10" fill="#b7c0d0"/>
<rect x="90" y="214" width="10" height="10" fill="#a5b1c4"/>
<rect x="100" y="214" width="10" height="10" fill="#98a6bb"/>
<rect x="110" y="214" width="10" height="10" fill="#c2cad6"/>
<rect x="120" y="214" width="10" height="10" fill="#c9d0db"/>
<rect x="130" y="214" width="10" height="10" fill="#a5b1c4"/>
<rect x="140" y="214" width="10" height="10" fill="#98a6bb"/>
<rect x="150" y="214" width="10" height="10" fill="#b3bdcd"/>
<rect x="160" y="214" width="10" height="10" fill="#c2cad6"/>
<rect x="170" y="214" width="10" height="10" fill="#acb7c9"/>
<rect x="180" y="214" width="10" height="10" fill="#b3bdcd"/>
<rect x="190" y="214" width="10" height="10" fill="#b7c0d0"/>
<rect x="200" y="214" width="10" height="10" fill="#a9b4c6"/>
<rect x="210" y="214" width="10" height="10" fill="#a9b4c6"/>
<rect x="220" y="214" width="10" height="10" fill="#a9b4c6"/>
<rect x="230" y="214" width="10" height="10" fill="#a9b4c6"/>
<rect x="240" y="214" width="10" height="10" fill="#a9b4c6"/>
<rect x="250" y="214" width="10" height="10" fill="#8b9bb2"/>
<rect x="260" y="214" width="10" height="10" fill="#8b9bb2"/>
<rect x="270" y="214" width="10" height="10" fill="#a9b4c6"/>
<rect x="280" y="214" width="10" height="10" fill="#a9b4c6"/>
<rect x="290" y="214" width="10" height="10" fill="#a9b4c6"/>
<rect x="300" y="214" width="10" height="10" fill="#a9b4c6"/>
<rect x="310" y="214" width="10" height="10" fill="#a9b4c6"/>
<rect x="320" y="214" width="10" height="10" fill="#a9b4c6"/>
<rect x="330" y="214" width="10" height="10" fill="#cbd2dc"/>
<rect x="340" y="214" width="10" height="10" fill="#cbd2dc"/>
<rect x="350" y="214" width="10" height="10" fill="#d5dae3"/>
<rect x="360" y="214" width="10" height="10" fill="#cbd2dc"/>
<rect x="370" y="214" width="10" height="10" fill="#c7ceda"/>
<rect x="380" y="214" width="10" height="10" fill="#cbd2dc"/>
<rect x="390" y="214" width="10" height="10" fill="#cbd2dc"/>
<rect x="400" y="214" width="10" height="10" fill="#cbd2dc"/>
<rect x="410" y="214" width="10" height="10" fill="#cbd2dc"/>
<rect x="420" y="214" width="10" height="10" fill="#cbd2dc"/>
<rect x="430" y="214" width="10" height="10" fill="#cbd2dc"/>
<rect x="440" y="214" width="10" height="10" fill="#cbd2dc"/>
<rect x="450" y="214" width="10" height="10" fill="#ced4de"/>
<rect x="460" y="214" width="10" height="10" fill="#d9dee5"/>
<rect x="470" y="214" width="10" height="10" fill="#ced4de"/>
<rect x="480" y="214" width="10" height="10" fill="#d5dae3"/>
<rect x="490" y="214" width="30" height="10" fill="#e7eaee"/>
<rect x="40" y="224" width="20" height="10" fill="#dadfe6"/>
<rect x="60" y="224" width="10" height="10" fill="#eceef1"/>
<rect x="70" y="224" width="10" height="10" fill="#eceef1"/>
<rect x="80" y="224" width="10" height="10" fill="#c9d0db"/>
<rect x="90" y="224" width="10" height="10" fill="#acb7c9"/>
<rect x="100" y="224" width="10" height="10" fill="#98a6bb"/>
<rect x="110" y="224" width="10" height="10" fill="#c2cad6"/>
<rect x="120" y="224" width="10" height="10" fill="#d7dce4"/>
<rect x="130" y="224" width="10" height="10" fill="#a5b1c4"/>
<rect x="140" y="224" width="10" height="10" fill="#9ba9bd"/>
<rect x="150" y="224" width="10" height="10" fill="#c2cad6"/>
<rect x="160" y="224" width="10" height="10" fill="#d7dce4"/>
<rect x="170" y="224" width="10" height="10" fill="#acb7c9"/>
<rect x="180" y="224" width="10" height="10" fill="#b7c0d0"/>
<rect x="190" y="224" width="10" height="10" fill="#c2cad6"/>
<rect x="200" y="224" width="10" height="10" fill="#c2cad6"/>
<rect x="210" y="224" width="10" height="10" fill="#a9b4c6"/>
<rect x="220" y="224" width="10" height="10" fill="#a9b4c6"/>
<rect x="230" y="224" width="10" height="10" fill="#a9b4c6"/>
<rect x="240" y="224" width="10" height="10" fill="#a9b4c6"/>
<rect x="250" y="224" width="10" height="10" fill="#a9b4c6"/>
<rect x="260" y="224" width="10" height="10" fill="#a9b4c6"/>
<rect x="270" y="224" width="10" height="10" fill="#a9b4c6"/>
<rect x="280" y="224" width="10" height="10" fill="#a9b4c6"/>
<rect x="290" y="224" width="10" height="10" fill="#a9b4c6"/>
<rect x="300" y="224" width="10" height="10" fill="#a9b4c6"/>
<rect x="310" y="224" width="10" height="10" fill="#a9b4c6"/>
<rect x="320" y="224" width="10" height="10" fill="#a9b4c6"/>
<rect x="330" y="224" width="10" height="10" fill="#d2d8e0"/>
<rect x="340" y="224" width="10" height="10" fill="#cbd2dc"/>
<rect x="350" y="224" width="10" height="10" fill="#c7ceda"/>
<rect x="360" y="224" width="10" height="10" fill="#cbd2dc"/>
<rect x="370" y="224" width="10" height="10" fill="#cbd2dc"/>
<rect x="380" y="224" width="10" height="10" fill="#c7ceda"/>
<rect x="390" y="224" width="10" height="10" fill="#c7ceda"/>
<rect x="400" y="224" width="10" height="10" fill="#c7ceda"/>
<rect x="410" y="224" width="10" height="10" fill="#d5dae3"/>
<rect x="420" y="224" width="10" height="10" fill="#cbd2dc"/>
<rect x="430" y="224" width="10" height="10" fill="#cbd2dc"/>
<rect x="440" y="224" width="10" height="10" fill="#d5dae3"/>
<rect x="450" y="224" width="10" height="10" fill="#d9dee5"/>
<rect x="460" y="224" width="10" height="10" fill="#d5dae3"/>
<rect x="470" y="224" width="10" height="10" fill="#ced4de"/>
<rect x="480" y="224" width="10" height="10" fill="#d5dae3"/>
<rect x="490" y="224" width="30" height="10" fill="#e7eaee"/>
<rect x="40" y="234" width="20" height="10" fill="#eceef1"/>
<rect x="60" y="234" width="10" height="10" fill="#eceef1"/>
<rect x="70" y="234" width="10" height="10" fill="#eceef1"/>
<rect x="80" y="234" width="10" height="10" fill="#dadfe6"/>
<rect x="90" y="234" width="10" height="10" fill="#b7c0d0"/>
<rect x="100" y="234" width="10" height="10" fill="#a5b1c4"/>
<rect x="110" y="234" width="10" height="10" fill="#c9d0db"/>
<rect x="120" y="234" width="10" height="10" fill="#c9d0db"/>
<rect x="130" y="234" width="10" height="10" fill="#b3bdcd"/>
<rect x="140" y="234" width="10" height="10" fill="#a5b1c4"/>
<rect x="150" y="234" width="10" height="10" fill="#c9d0db"/>
<rect x="160" y="234" width="10" height="10" fill="#e2e5ea"/>
<rect x="170" y="234" width="10" height="10" fill="#b7c0d0"/>
<rect x="180" y="234" width="10" height="10" fill="#c2cad6"/>
<rect x="190" y="234" width="10" height="10" fill="#c9d0db"/>
<rect x="200" y="234" width="10" height="10" fill="#c9d0db"/>
<rect x="210" y="234" width="10" height="10" fill="#dadfe6"/>
<rect x="220" y="234" width="10" height="10" fill="#dadfe6"/>
<rect x="230" y="234" width="10" height="10" fill="#d0d6df"/>
<rect x="240" y="234" width="10" height="10" fill="#dadfe6"/>
<rect x="250" y="234" width="10" height="10" fill="#dadfe6"/>
<rect x="260" y="234" width="10" height="10" fill="#d0d6df"/>
<rect x="270" y="234" width="10" height="10" fill="#bec7d4"/>
<rect x="280" y="234" width="10" height="10" fill="#c2cad6"/>
<rect x="290" y="234" width="10" height="10" fill="#d0d6df"/>
<rect x="300" y="234" width="10" height="10" fill="#d4d9e2"/>
<rect x="310" y="234" width="10" height="10" fill="#d4d9e2"/>
<rect x="320" y="234" width="10" height="10" fill="#d4d9e2"/>
<rect x="330" y="234" width="10" height="10" fill="#cbd2dc"/>
<rect x="340" y="234" width="10" height="10" fill="#cbd2dc"/>
<rect x="350" y="234" width="10" height="10" fill="#cbd2dc"/>
<rect x="360" y="234" width="10" height="10" fill="#c7ceda"/>
<rect x="370" y="234" width="10" height="10" fill="#c7ceda"/>
<rect x="380" y="234" width="10" height="10" fill="#c7ceda"/>
<rect x="390" y="234" width="10" height="10" fill="#c7ceda"/>
<rect x="400" y="234" width="10" height="10" fill="#c7ceda"/>
<rect x="410" y="234" width="10" height="10" fill="#cbd2dc"/>
<rect x="420" y="234" width="10" height="10" fill="#cbd2dc"/>
<rect x="430" y="234" width="10" height="10" fill="#cbd2dc"/>
<rect x="440" y="234" width="10" height="10" fill="#ced4de"/>
<rect x="450" y="234" width="10" height="10" fill="#d5dae3"/>
<rect x="460" y="234" width="10" height="10" fill="#ced4de"/>
<rect x="470" y="234" width="10" height="10" fill="#d5dae3"/>
<rect x="480" y="234" width="10" height="10" fill="#d9dee5"/>
<rect x="490" y="234" width="30" height="10" fill="#e7eaee"/>
<rect x="40" y="244" width="20" height="10" fill="#eceef1"/>
<rect x="60" y="244" width="10" height="10" fill="#eceef1"/>
<rect x="70" y="244" width="10" height="10" fill="#eceef1"/>
<rect x="80" y="244" width="10" height="10" fill="#e5e8ed"/>
<rect x="90" y="244" width="10" height="10" fill="#c9d0db"/>
<rect x="100" y="244" width="10" height="10" fill="#b7c0d0"/>
<rect x="110" y="244" width="10" height="10" fill="#c9d0db"/>
<rect x="120" y="244" width="10" height="10" fill="#c9d0db"/>
<rect x="130" y="244" width="10" height="10" fill="#c2cad6"/>
<rect x="140" y="244" width="10" height="10" fill="#b7c0d0"/>
<rect x="150" y="244" width="10" height="10" fill="#c9d0db"/>
<rect x="160" y="244" width="10" height="10" fill="#e2e5ea"/>
<rect x="170" y="244" width="10" height="10" fill="#c2cad6"/>
<rect x="180" y="244" width="10" height="10" fill="#c9d0db"/>
<rect x="190" y="244" width="10" height="10" fill="#c9d0db"/>
<rect x="200" y="244" width="10" height="10" fill="#d0d6df"/>
<rect x="210" y="244" width="10" height="10" fill="#dee2e8"/>
<rect x="220" y="244" width="10" height="10" fill="#d0d6df"/>
<rect x="230" y="244" width="10" height="10" fill="#d0d6df"/>
<rect x="240" y="244" width="10" height="10" fill="#dadfe6"/>
<rect x="250" y="244" width="10" height="10" fill="#dadfe6"/>
<rect x="260" y="244" width="10" height="10" fill="#c2cad6"/>
<rect x="270" y="244" width="10" height="10" fill="#b7c0d0"/>
<rect x="280" y="244" width="10" height="10" fill="#bec7d4"/>
<rect x="290" y="244" width="10" height="10" fill="#d0d6df"/>
<rect x="300" y="244" width="10" height="10" fill="#d4d9e2"/>
<rect x="310" y="244" width="10" height="10" fill="#d7dce4"/>
<rect x="320" y="244" width="10" height="10" fill="#d7dce4"/>
<rect x="330" y="244" width="10" height="10" fill="#d5dae3"/>
<rect x="340" y="244" width="10" height="10" fill="#cbd2dc"/>
<rect x="350" y="244" width="10" height="10" fill="#ced4de"/>
<rect x="360" y="244" width="10" height="10" fill="#ced4de"/>
<rect x="370" y="244" width="10" height="10" fill="#cbd2dc"/>
<rect x="380" y="244" width="10" height="10" fill="#c7ceda"/>
<rect x="390" y="244" width="10" height="10" fill="#cbd2dc"/>
<rect x="400" y="244" width="10" height="10" fill="#cbd2dc"/>
<rect x="410" y="244" width="10" height="10" fill="#d5dae3"/>
<rect x="420" y="244" width="10" height="10" fill="#ced4de"/>
<rect x="430" y="244" width="10" height="10" fill="#cbd2dc"/>
<rect x="440" y="244" width="10" height="10" fill="#cbd2dc"/>
<rect x="450" y="244" width="10" height="10" fill="#d2d8e0"/>
<rect x="460" y="244" width="10" height="10" fill="#d9dee5"/>
<rect x="470" y="244" width="10" height="10" fill="#e0e4e9"/>
<rect x="480" y="244" width="10" height="10" fill="#e7eaee"/>
<rect x="490" y="244" width="30" height="10" fill="#e7eaee"/>
<rect x="40" y="254" width="20" height="30" fill="#eceef1"/>
<rect x="60" y="254" width="10" height="30" fill="#eceef1"/>
<rect x="70" y="254" width="10" height="30" fill="#eceef1"/>
<rect x="80" y="254" width="10" height="30" fill="#e8ebef"/>
<rect x="90" y="254" width="10" height="30" fill="#c9d0db"/>
<rect x="100" y="254" width="10" height="30" fill="#c9d0db"/>
<rect x="110" y="254" width="10" height="30" fill="#dadfe6"/>
<rect x="120" y="254" width="10" height="30" fill="#d0d6df"/>
<rect x="130" y="254" width="10" height="30" fill="#c9d0db"/>
<rect x="140" y="254" width="10" height="30" fill="#c2cad6"/>
<rect x="150" y="254" width="10" height="30" fill="#d7dce4"/>
<rect x="160" y="254" width="10" height="30" fill="#e5e8ed"/>
<rect x="170" y="254" width="10" height="30" fill="#c9d0db"/>
<rect x="180" y="254" width="10" height="30" fill="#c9d0db"/>
<rect x="190" y="254" width="10" height="30" fill="#d7dce4"/>
<rect x="200" y="254" width="10" height="30" fill="#d7dce4"/>
<rect x="210" y="254" width="10" height="30" fill="#e5e8ed"/>
<rect x="220" y="254" width="10" height="30" fill="#dadfe6"/>
<rect x="230" y="254" width="10" height="30" fill="#d0d6df"/>
<rect x="240" y="254" width="10" height="30" fill="#d7dce4"/>
<rect x="250" y="254" width="10" height="30" fill="#d7dce4"/>
<rect x="260" y="254" width="10" height="30" fill="#bec7d4"/>
<rect x="270" y="254" width="10" height="30" fill="#b7c0d0"/>
<rect x="280" y="254" width="10" height="30" fill="#c9d0db"/>
<rect x="290" y="254" width="10" height="30" fill="#d7dce4"/>
<rect x="300" y="254" width="10" height="30" fill="#d7dce4"/>
<rect x="310" y="254" width="10" height="30" fill="#d7dce4"/>
<rect x="320" y="254" width="10" height="30" fill="#dadfe6"/>
<rect x="330" y="254" width="10" height="30" fill="#d9dee5"/>
<rect x="340" y="254" width="10" height="30" fill="#d5dae3"/>
<rect x="350" y="254" width="10" height="30" fill="#d2d8e0"/>
<rect x="360" y="254" width="10" height="30" fill="#d2d8e0"/>
<rect x="370" y="254" width="10" height="30" fill="#cbd2dc"/>
<rect x="380" y="254" width="10" height="30" fill="#cbd2dc"/>
<rect x="390" y="254" width="10" height="30" fill="#d2d8e0"/>
<rect x="400" y="254" width="10" height="30" fill="#d2d8e0"/>
<rect x="410" y="254" width="10" height="30" fill="#e0e4e9"/>
<rect x="420" y="254" width="10" height="30" fill="#d5dae3"/>
<rect x="430" y="254" width="10" height="30" fill="#d2d8e0"/>
<rect x="440" y="254" width="10" height="30" fill="#e0e4e9"/>
<rect x="450" y="254" width="10" height="30" fill="#e0e4e9"/>
<rect x="460" y="254" width="10" height="30" fill="#e7eaee"/>
<rect x="470" y="254" width="10" height="30" fill="#e7eaee"/>
<rect x="480" y="254" width="10" height="30" fill="#e7eaee"/>
<rect x="490" y="254" width="30" height="30" fill="#e7eaee"/>
<polyline points="121,31 140,43.5 155,54 165.5,63 170,78 174.5,93 179,111 183,124" fill="none" stroke="#c5cdd9" stroke-width="8" stroke-linecap="round" stroke-linejoin="round"/>
</g>
<ellipse cx="274" cy="251" rx="22" ry="14" fill="url(#blob)"/>
<ellipse cx="259" cy="210" rx="9" ry="8" fill="url(#blob2)"/>
<ellipse cx="52" cy="231" rx="4" ry="9" fill="url(#blob2)"/>
</g>
<g>
<polygon points="172.30,126.20 182.34,126.01 182.53,136.16 172.49,136.35" fill="#ffffff" fill-opacity="0.35" stroke="none"/>
<polygon points="182.34,126.01 192.38,125.82 192.57,135.97 182.53,136.16" fill="#ffffff" fill-opacity="0.35" stroke="none"/>
<polygon points="192.38,125.82 202.42,125.63 202.61,135.78 192.57,135.97" fill="#ffffff" fill-opacity="0.35" stroke="none"/>
<polygon points="202.42,125.63 212.46,125.44 212.65,135.59 202.61,135.78" fill="#ffffff" fill-opacity="0.35" stroke="none"/>
<polygon points="212.46,125.44 222.50,125.25 222.69,135.40 212.65,135.59" fill="#ffffff" fill-opacity="0.35" stroke="none"/>
<polygon points="222.50,125.25 232.54,125.06 232.73,135.21 222.69,135.40" fill="#ffffff" fill-opacity="0.35" stroke="none"/>
<polygon points="232.54,125.06 242.58,124.86 242.77,135.01 232.73,135.21" fill="#ffffff" fill-opacity="0.35" stroke="none"/>
<polygon points="242.58,124.86 252.62,124.67 252.81,134.82 242.77,135.01" fill="#ffffff" fill-opacity="0.35" stroke="none"/>
<polygon points="172.49,136.35 182.53,136.16 182.73,146.31 172.69,146.50" fill="#ffffff" fill-opacity="0.35" stroke="none"/>
<polygon points="182.53,136.16 192.57,135.97 192.77,146.12 182.73,146.31" fill="#ffffff" fill-opacity="0.35" stroke="none"/>
<polygon points="192.57,135.97 202.61,135.78 202.81,145.93 192.77,146.12" fill="#ffffff" fill-opacity="0.35" stroke="none"/>
<polygon points="202.61,135.78 212.65,135.59 212.85,145.74 202.81,145.93" fill="#ffffff" fill-opacity="0.35" stroke="none"/>
<polygon points="212.65,135.59 222.69,135.40 222.89,145.55 212.85,145.74" fill="#ffffff" fill-opacity="0.35" stroke="none"/>
<polygon points="222.69,135.40 232.73,135.21 232.93,145.36 222.89,145.55" fill="#ffffff" fill-opacity="0.35" stroke="none"/>
<polygon points="232.73,135.21 242.77,135.01 242.97,145.16 232.93,145.36" fill="#ffffff" fill-opacity="0.35" stroke="none"/>
<polygon points="242.77,135.01 252.81,134.82 253.01,144.97 242.97,145.16" fill="#ffffff" fill-opacity="0.35" stroke="none"/>
<polygon points="252.81,134.82 262.85,134.63 263.05,144.78 253.01,144.97" fill="#ffffff" fill-opacity="0.35" stroke="none"/>
<polygon points="262.85,134.63 272.89,134.44 273.09,144.59 263.05,144.78" fill="#ffffff" fill-opacity="0.35" stroke="none"/>
<polygon points="272.89,134.44 282.93,134.25 283.13,144.40 273.09,144.59" fill="#ffffff" fill-opacity="0.35" stroke="none"/>
<polygon points="282.93,134.25 292.97,134.06 293.17,144.21 283.13,144.40" fill="#ffffff" fill-opacity="0.35" stroke="none"/>
<polygon points="292.97,134.06 303.01,133.87 303.21,144.02 293.17,144.21" fill="#ffffff" fill-opacity="0.35" stroke="none"/>
<polygon points="303.01,133.87 313.05,133.68 313.25,143.83 303.21,144.02" fill="#ffffff" fill-opacity="0.35" stroke="none"/>
<polygon points="313.05,133.68 323.09,133.49 323.29,143.64 313.25,143.83" fill="#ffffff" fill-opacity="0.35" stroke="none"/>
<polygon points="172.69,146.50 182.73,146.31 182.92,156.46 172.88,156.65" fill="#ffffff" fill-opacity="0.35" stroke="none"/>
<polygon points="182.73,146.31 192.77,146.12 192.96,156.27 182.92,156.46" fill="#ffffff" fill-opacity="0.35" stroke="none"/>
<polygon points="192.77,146.12 202.81,145.93 203.00,156.08 192.96,156.27" fill="#ffffff" fill-opacity="0.35" stroke="none"/>
<polygon points="202.81,145.93 212.85,145.74 213.04,155.89 203.00,156.08" fill="#ffffff" fill-opacity="0.35" stroke="none"/>
<polygon points="212.85,145.74 222.89,145.55 223.08,155.70 213.04,155.89" fill="#ffffff" fill-opacity="0.35" stroke="none"/>
<polygon points="222.89,145.55 232.93,145.36 233.12,155.51 223.08,155.70" fill="#ffffff" fill-opacity="0.35" stroke="none"/>
<polygon points="232.93,145.36 242.97,145.16 243.16,155.31 233.12,155.51" fill="#ffffff" fill-opacity="0.35" stroke="none"/>
<polygon points="242.97,145.16 253.01,144.97 253.20,155.12 243.16,155.31" fill="#ffffff" fill-opacity="0.35" stroke="none"/>
<polygon points="253.01,144.97 263.05,144.78 263.24,154.93 253.20,155.12" fill="#ffffff" fill-opacity="0.35" stroke="none"/>
<polygon points="263.05,144.78 273.09,144.59 273.28,154.74 263.24,154.93" fill="#ffffff" fill-opacity="0.35" stroke="none"/>
<polygon points="273.09,144.59 283.13,144.40 283.32,154.55 273.28,154.74" fill="#ffffff" fill-opacity="0.35" stroke="none"/>
<polygon points="283.13,144.40 293.17,144.21 293.36,154.36 283.32,154.55" fill="#ffffff" fill-opacity="0.35" stroke="none"/>
<polygon points="293.17,144.21 303.21,144.02 303.40,154.17 293.36,154.36" fill="#ffffff" fill-opacity="0.35" stroke="none"/>
<polygon points="303.21,144.02 313.25,143.83 313.44,153.98 303.40,154.17" fill="#ffffff" fill-opacity="0.35" stroke="none"/>
<polygon points="313.25,143.83 323.29,143.64 323.48,153.79 313.44,153.98" fill="#ffffff" fill-opacity="0.35" stroke="none"/>
<polygon points="172.88,156.65 182.92,156.46 183.11,166.61 173.07,166.80" fill="#ffffff" fill-opacity="0.35" stroke="none"/>
<polygon points="182.92,156.46 192.96,156.27 193.15,166.42 183.11,166.61" fill="#ffffff" fill-opacity="0.35" stroke="none"/>
<polygon points="192.96,156.27 203.00,156.08 203.19,166.23 193.15,166.42" fill="#ffffff" fill-opacity="0.35" stroke="none"/>
<polygon points="203.00,156.08 213.04,155.89 213.23,166.04 203.19,166.23" fill="#ffffff" fill-opacity="0.35" stroke="none"/>
<polygon points="213.04,155.89 223.08,155.70 223.27,165.85 213.23,166.04" fill="#ffffff" fill-opacity="0.35" stroke="none"/>
<polygon points="223.08,155.70 233.12,155.51 233.31,165.66 223.27,165.85" fill="#ffffff" fill-opacity="0.35" stroke="none"/>
<polygon points="233.12,155.51 243.16,155.31 243.35,165.46 233.31,165.66" fill="#ffffff" fill-opacity="0.35" stroke="none"/>
<polygon points="243.16,155.31 253.20,155.12 253.39,165.27 243.35,165.46" fill="#ffffff" fill-opacity="0.35" stroke="none"/>
<polygon points="253.20,155.12 263.24,154.93 263.43,165.08 253.39,165.27" fill="#ffffff" fill-opacity="0.35" stroke="none"/>
<polygon points="263.24,154.93 273.28,154.74 273.47,164.89 263.43,165.08" fill="#ffffff" fill-opacity="0.35" stroke="none"/>
<polygon points="273.28,154.74 283.32,154.55 283.51,164.70 273.47,164.89" fill="#ffffff" fill-opacity="0.35" stroke="none"/>
<polygon points="283.32,154.55 293.36,154.36 293.55,164.51 283.51,164.70" fill="#ffffff" fill-opacity="0.35" stroke="none"/>
<polygon points="293.36,154.36 303.40,154.17 303.59,164.32 293.55,164.51" fill="#ffffff" fill-opacity="0.35" stroke="none"/>
<polygon points="303.40,154.17 313.44,153.98 313.63,164.13 303.59,164.32" fill="#ffffff" fill-opacity="0.35" stroke="none"/>
<polygon points="313.44,153.98 323.48,153.79 323.67,163.94 313.63,164.13" fill="#ffffff" fill-opacity="0.35" stroke="none"/>
<polygon points="173.07,166.80 183.11,166.61 183.30,176.76 173.26,176.95" fill="#ffffff" fill-opacity="0.35" stroke="none"/>
<polygon points="183.11,166.61 193.15,166.42 193.34,176.57 183.30,176.76" fill="#ffffff" fill-opacity="0.35" stroke="none"/>
<polygon points="193.15,166.42 203.19,166.23 203.38,176.38 193.34,176.57" fill="#ffffff" fill-opacity="0.35" stroke="none"/>
<polygon points="203.19,166.23 213.23,166.04 213.42,176.19 203.38,176.38" fill="#ffffff" fill-opacity="0.35" stroke="none"/>
<polygon points="213.23,166.04 223.27,165.85 223.46,176.00 213.42,176.19" fill="#ffffff" fill-opacity="0.35" stroke="none"/>
<polygon points="223.27,165.85 233.31,165.66 233.50,175.81 223.46,176.00" fill="#ffffff" fill-opacity="0.35" stroke="none"/>
<polygon points="233.31,165.66 243.35,165.46 243.54,175.61 233.50,175.81" fill="#ffffff" fill-opacity="0.35" stroke="none"/>
<polygon points="243.35,165.46 253.39,165.27 253.58,175.42 243.54,175.61" fill="#ffffff" fill-opacity="0.35" stroke="none"/>
<polygon points="253.39,165.27 263.43,165.08 263.62,175.23 253.58,175.42" fill="#ffffff" fill-opacity="0.35" stroke="none"/>
<polygon points="263.43,165.08 273.47,164.89 273.66,175.04 263.62,175.23" fill="#ffffff" fill-opacity="0.35" stroke="none"/>
<polygon points="273.47,164.89 283.51,164.70 283.70,174.85 273.66,175.04" fill="#ffffff" fill-opacity="0.35" stroke="none"/>
<polygon points="283.51,164.70 293.55,164.51 293.74,174.66 283.70,174.85" fill="#ffffff" fill-opacity="0.35" stroke="none"/>
<polygon points="293.55,164.51 303.59,164.32 303.78,174.47 293.74,174.66" fill="#ffffff" fill-opacity="0.35" stroke="none"/>
<polygon points="303.59,164.32 313.63,164.13 313.82,174.28 303.78,174.47" fill="#ffffff" fill-opacity="0.35" stroke="none"/>
<polygon points="313.63,164.13 323.67,163.94 323.86,174.09 313.82,174.28" fill="#ffffff" fill-opacity="0.35" stroke="none"/>
<polygon points="323.67,163.94 333.71,163.75 333.90,173.90 323.86,174.09" fill="#ffffff" fill-opacity="0.35" stroke="none"/>
<polygon points="183.30,176.76 193.34,176.57 193.54,186.72 183.50,186.91" fill="#ffffff" fill-opacity="0.35" stroke="none"/>
<polygon points="193.34,176.57 203.38,176.38 203.58,186.53 193.54,186.72" fill="#ffffff" fill-opacity="0.35" stroke="none"/>
<polygon points="203.38,176.38 213.42,176.19 213.62,186.34 203.58,186.53" fill="#ffffff" fill-opacity="0.35" stroke="none"/>
<polygon points="213.42,176.19 223.46,176.00 223.66,186.15 213.62,186.34" fill="#ffffff" fill-opacity="0.35" stroke="none"/>
<polygon points="223.46,176.00 233.50,175.81 233.70,185.96 223.66,186.15" fill="#ffffff" fill-opacity="0.35" stroke="none"/>
<polygon points="233.50,175.81 243.54,175.61 243.74,185.76 233.70,185.96" fill="#ffffff" fill-opacity="0.35" stroke="none"/>
<polygon points="243.54,175.61 253.58,175.42 253.78,185.57 243.74,185.76" fill="#ffffff" fill-opacity="0.35" stroke="none"/>
<polygon points="253.58,175.42 263.62,175.23 263.82,185.38 253.78,185.57" fill="#ffffff" fill-opacity="0.35" stroke="none"/>
<polygon points="263.62,175.23 273.66,175.04 273.86,185.19 263.82,185.38" fill="#ffffff" fill-opacity="0.35" stroke="none"/>
<polygon points="273.66,175.04 283.70,174.85 283.90,185.00 273.86,185.19" fill="#ffffff" fill-opacity="0.35" stroke="none"/>
<polygon points="283.70,174.85 293.74,174.66 293.94,184.81 283.90,185.00" fill="#ffffff" fill-opacity="0.35" stroke="none"/>
<polygon points="293.74,174.66 303.78,174.47 303.98,184.62 293.94,184.81" fill="#ffffff" fill-opacity="0.35" stroke="none"/>
<polygon points="303.78,174.47 313.82,174.28 314.02,184.43 303.98,184.62" fill="#ffffff" fill-opacity="0.35" stroke="none"/>
<polygon points="313.82,174.28 323.86,174.09 324.06,184.24 314.02,184.43" fill="#ffffff" fill-opacity="0.35" stroke="none"/>
<polygon points="323.86,174.09 333.90,173.90 334.10,184.05 324.06,184.24" fill="#ffffff" fill-opacity="0.35" stroke="none"/>
<polygon points="183.50,186.91 193.54,186.72 193.73,196.87 183.69,197.06" fill="#ffffff" fill-opacity="0.35" stroke="none"/>
<polygon points="193.54,186.72 203.58,186.53 203.77,196.68 193.73,196.87" fill="#ffffff" fill-opacity="0.35" stroke="none"/>
<polygon points="203.58,186.53 213.62,186.34 213.81,196.49 203.77,196.68" fill="#ffffff" fill-opacity="0.35" stroke="none"/>
<polygon points="213.62,186.34 223.66,186.15 223.85,196.30 213.81,196.49" fill="#ffffff" fill-opacity="0.35" stroke="none"/>
<polygon points="223.66,186.15 233.70,185.96 233.89,196.11 223.85,196.30" fill="#ffffff" fill-opacity="0.35" stroke="none"/>
<polygon points="233.70,185.96 243.74,185.76 243.93,195.91 233.89,196.11" fill="#ffffff" fill-opacity="0.35" stroke="none"/>
<polygon points="243.74,185.76 253.78,185.57 253.97,195.72 243.93,195.91" fill="#ffffff" fill-opacity="0.35" stroke="none"/>
<polygon points="253.78,185.57 263.82,185.38 264.01,195.53 253.97,195.72" fill="#ffffff" fill-opacity="0.35" stroke="none"/>
<polygon points="263.82,185.38 273.86,185.19 274.05,195.34 264.01,195.53" fill="#ffffff" fill-opacity="0.35" stroke="none"/>
<polygon points="273.86,185.19 283.90,185.00 284.09,195.15 274.05,195.34" fill="#ffffff" fill-opacity="0.35" stroke="none"/>
<polygon points="283.90,185.00 293.94,184.81 294.13,194.96 284.09,195.15" fill="#ffffff" fill-opacity="0.35" stroke="none"/>
<polygon points="293.94,184.81 303.98,184.62 304.17,194.77 294.13,194.96" fill="#ffffff" fill-opacity="0.35" stroke="none"/>
<polygon points="303.98,184.62 314.02,184.43 314.21,194.58 304.17,194.77" fill="#ffffff" fill-opacity="0.35" stroke="none"/>
<polygon points="314.02,184.43 324.06,184.24 324.25,194.39 314.21,194.58" fill="#ffffff" fill-opacity="0.35" stroke="none"/>
<polygon points="324.06,184.24 334.10,184.05 334.29,194.20 324.25,194.39" fill="#ffffff" fill-opacity="0.35" stroke="none"/>
<polygon points="183.69,197.06 193.73,196.87 193.92,207.02 183.88,207.21" fill="#ffffff" fill-opacity="0.35" stroke="none"/>
<polygon points="193.73,196.87 203.77,196.68 203.96,206.83 193.92,207.02" fill="#ffffff" fill-opacity="0.35" stroke="none"/>
<polygon points="203.77,196.68 213.81,196.49 214.00,206.64 203.96,206.83" fill="#ffffff" fill-opacity="0.35" stroke="none"/>
<polygon points="213.81,196.49 223.85,196.30 224.04,206.45 214.00,206.64" fill="#ffffff" fill-opacity="0.35" stroke="none"/>
<polygon points="223.85,196.30 233.89,196.11 234.08,206.26 224.04,206.45" fill="#ffffff" fill-opacity="0.35" stroke="none"/>
<polygon points="233.89,196.11 243.93,195.91 244.12,206.06 234.08,206.26" fill="#ffffff" fill-opacity="0.35" stroke="none"/>
<polygon points="243.93,195.91 253.97,195.72 254.16,205.87 244.12,206.06" fill="#ffffff" fill-opacity="0.35" stroke="none"/>
<polygon points="253.97,195.72 264.01,195.53 264.20,205.68 254.16,205.87" fill="#ffffff" fill-opacity="0.35" stroke="none"/>
<polygon points="264.01,195.53 274.05,195.34 274.24,205.49 264.20,205.68" fill="#ffffff" fill-opacity="0.35" stroke="none"/>
<polygon points="274.05,195.34 284.09,195.15 284.28,205.30 274.24,205.49" fill="#ffffff" fill-opacity="0.35" stroke="none"/>
<polygon points="284.09,195.15 294.13,194.96 294.32,205.11 284.28,205.30" fill="#ffffff" fill-opacity="0.35" stroke="none"/>
<polygon points="294.13,194.96 304.17,194.77 304.36,204.92 294.32,205.11" fill="#ffffff" fill-opacity="0.35" stroke="none"/>
<polygon points="304.17,194.77 314.21,194.58 314.40,204.73 304.36,204.92" fill="#ffffff" fill-opacity="0.35" stroke="none"/>
<polygon points="314.21,194.58 324.25,194.39 324.44,204.54 314.40,204.73" fill="#ffffff" fill-opacity="0.35" stroke="none"/>
<polygon points="324.25,194.39 334.29,194.20 334.48,204.35 324.44,204.54" fill="#ffffff" fill-opacity="0.35" stroke="none"/>
<polygon points="183.88,207.21 193.92,207.02 194.12,217.17 184.08,217.36" fill="#ffffff" fill-opacity="0.35" stroke="none"/>
<polygon points="193.92,207.02 203.96,206.83 204.16,216.98 194.12,217.17" fill="#ffffff" fill-opacity="0.35" stroke="none"/>
<polygon points="203.96,206.83 214.00,206.64 214.20,216.79 204.16,216.98" fill="#ffffff" fill-opacity="0.35" stroke="none"/>
<polygon points="214.00,206.64 224.04,206.45 224.24,216.60 214.20,216.79" fill="#ffffff" fill-opacity="0.35" stroke="none"/>
<polygon points="224.04,206.45 234.08,206.26 234.28,216.41 224.24,216.60" fill="#ffffff" fill-opacity="0.35" stroke="none"/>
<polygon points="234.08,206.26 244.12,206.06 244.32,216.21 234.28,216.41" fill="#ffffff" fill-opacity="0.35" stroke="none"/>
<polygon points="244.12,206.06 254.16,205.87 254.36,216.02 244.32,216.21" fill="#ffffff" fill-opacity="0.35" stroke="none"/>
<polygon points="254.16,205.87 264.20,205.68 264.40,215.83 254.36,216.02" fill="#ffffff" fill-opacity="0.35" stroke="none"/>
<polygon points="264.20,205.68 274.24,205.49 274.44,215.64 264.40,215.83" fill="#ffffff" fill-opacity="0.35" stroke="none"/>
<polygon points="274.24,205.49 284.28,205.30 284.48,215.45 274.44,215.64" fill="#ffffff" fill-opacity="0.35" stroke="none"/>
<polygon points="284.28,205.30 294.32,205.11 294.52,215.26 284.48,215.45" fill="#ffffff" fill-opacity="0.35" stroke="none"/>
<polygon points="294.32,205.11 304.36,204.92 304.56,215.07 294.52,215.26" fill="#ffffff" fill-opacity="0.35" stroke="none"/>
<polygon points="304.36,204.92 314.40,204.73 314.60,214.88 304.56,215.07" fill="#ffffff" fill-opacity="0.35" stroke="none"/>
<polygon points="314.40,204.73 324.44,204.54 324.64,214.69 314.60,214.88" fill="#ffffff" fill-opacity="0.35" stroke="none"/>
<polygon points="194.12,217.17 204.16,216.98 204.35,227.13 194.31,227.32" fill="#ffffff" fill-opacity="0.35" stroke="none"/>
<polygon points="204.16,216.98 214.20,216.79 214.39,226.94 204.35,227.13" fill="#ffffff" fill-opacity="0.35" stroke="none"/>
<polygon points="214.20,216.79 224.24,216.60 224.43,226.75 214.39,226.94" fill="#ffffff" fill-opacity="0.35" stroke="none"/>
<polygon points="224.24,216.60 234.28,216.41 234.47,226.56 224.43,226.75" fill="#ffffff" fill-opacity="0.35" stroke="none"/>
<polygon points="234.28,216.41 244.32,216.21 244.51,226.36 234.47,226.56" fill="#ffffff" fill-opacity="0.35" stroke="none"/>
<polygon points="244.32,216.21 254.36,216.02 254.55,226.17 244.51,226.36" fill="#ffffff" fill-opacity="0.35" stroke="none"/>
<polygon points="254.36,216.02 264.40,215.83 264.59,225.98 254.55,226.17" fill="#ffffff" fill-opacity="0.35" stroke="none"/>
<polygon points="264.40,215.83 274.44,215.64 274.63,225.79 264.59,225.98" fill="#ffffff" fill-opacity="0.35" stroke="none"/>
<polygon points="274.44,215.64 284.48,215.45 284.67,225.60 274.63,225.79" fill="#ffffff" fill-opacity="0.35" stroke="none"/>
<polygon points="284.48,215.45 294.52,215.26 294.71,225.41 284.67,225.60" fill="#ffffff" fill-opacity="0.35" stroke="none"/>
<polygon points="294.52,215.26 304.56,215.07 304.75,225.22 294.71,225.41" fill="#ffffff" fill-opacity="0.35" stroke="none"/>
<polygon points="304.56,215.07 314.60,214.88 314.79,225.03 304.75,225.22" fill="#ffffff" fill-opacity="0.35" stroke="none"/>
<polygon points="214.39,226.94 224.43,226.75 224.62,236.90 214.58,237.09" fill="#ffffff" fill-opacity="0.35" stroke="none"/>
<polygon points="224.43,226.75 234.47,226.56 234.66,236.71 224.62,236.90" fill="#ffffff" fill-opacity="0.35" stroke="none"/>
<polygon points="234.47,226.56 244.51,226.36 244.70,236.51 234.66,236.71" fill="#ffffff" fill-opacity="0.35" stroke="none"/>
<polygon points="244.51,226.36 254.55,226.17 254.74,236.32 244.70,236.51" fill="#ffffff" fill-opacity="0.35" stroke="none"/>
<polygon points="254.55,226.17 264.59,225.98 264.78,236.13 254.74,236.32" fill="#ffffff" fill-opacity="0.35" stroke="none"/>
<polygon points="264.59,225.98 274.63,225.79 274.82,235.94 264.78,236.13" fill="#ffffff" fill-opacity="0.35" stroke="none"/>
<polygon points="274.63,225.79 284.67,225.60 284.86,235.75 274.82,235.94" fill="#ffffff" fill-opacity="0.35" stroke="none"/>
<polygon points="284.67,225.60 294.71,225.41 294.90,235.56 284.86,235.75" fill="#ffffff" fill-opacity="0.35" stroke="none"/>
<polygon points="294.71,225.41 304.75,225.22 304.94,235.37 294.90,235.56" fill="#ffffff" fill-opacity="0.35" stroke="none"/>
<polygon points="304.75,225.22 314.79,225.03 314.98,235.18 304.94,235.37" fill="#ffffff" fill-opacity="0.35" stroke="none"/>
<polygon points="172.30,126.20 182.34,126.01 182.53,136.16 172.49,136.35" fill="none" stroke="#555555" stroke-width="1.3"/>
<polygon points="182.34,126.01 192.38,125.82 192.57,135.97 182.53,136.16" fill="none" stroke="#555555" stroke-width="1.3"/>
<polygon points="192.38,125.82 202.42,125.63 202.61,135.78 192.57,135.97" fill="none" stroke="#555555" stroke-width="1.3"/>
<polygon points="202.42,125.63 212.46,125.44 212.65,135.59 202.61,135.78" fill="none" stroke="#555555" stroke-width="1.3"/>
<polygon points="212.46,125.44 222.50,125.25 222.69,135.40 212.65,135.59" fill="none" stroke="#555555" stroke-width="1.3"/>
<polygon points="222.50,125.25 232.54,125.06 232.73,135.21 222.69,135.40" fill="none" stroke="#555555" stroke-width="1.3"/>
<polygon points="232.54,125.06 242.58,124.86 242.77,135.01 232.73,135.21" fill="none" stroke="#555555" stroke-width="1.3"/>
<polygon points="242.58,124.86 252.62,124.67 252.81,134.82 242.77,135.01" fill="none" stroke="#555555" stroke-width="1.3"/>
<polygon points="172.49,136.35 182.53,136.16 182.73,146.31 172.69,146.50" fill="none" stroke="#555555" stroke-width="1.3"/>
<polygon points="182.53,136.16 192.57,135.97 192.77,146.12 182.73,146.31" fill="none" stroke="#555555" stroke-width="1.3"/>
<polygon points="192.57,135.97 202.61,135.78 202.81,145.93 192.77,146.12" fill="none" stroke="#555555" stroke-width="1.3"/>
<polygon points="202.61,135.78 212.65,135.59 212.85,145.74 202.81,145.93" fill="none" stroke="#555555" stroke-width="1.3"/>
<polygon points="212.65,135.59 222.69,135.40 222.89,145.55 212.85,145.74" fill="none" stroke="#555555" stroke-width="1.3"/>
<polygon points="222.69,135.40 232.73,135.21 232.93,145.36 222.89,145.55" fill="none" stroke="#555555" stroke-width="1.3"/>
<polygon points="232.73,135.21 242.77,135.01 242.97,145.16 232.93,145.36" fill="none" stroke="#555555" stroke-width="1.3"/>
<polygon points="242.77,135.01 252.81,134.82 253.01,144.97 242.97,145.16" fill="none" stroke="#555555" stroke-width="1.3"/>
<polygon points="252.81,134.82 262.85,134.63 263.05,144.78 253.01,144.97" fill="none" stroke="#555555" stroke-width="1.3"/>
<polygon points="262.85,134.63 272.89,134.44 273.09,144.59 263.05,144.78" fill="none" stroke="#555555" stroke-width="1.3"/>
<polygon points="272.89,134.44 282.93,134.25 283.13,144.40 273.09,144.59" fill="none" stroke="#555555" stroke-width="1.3"/>
<polygon points="282.93,134.25 292.97,134.06 293.17,144.21 283.13,144.40" fill="none" stroke="#555555" stroke-width="1.3"/>
<polygon points="292.97,134.06 303.01,133.87 303.21,144.02 293.17,144.21" fill="none" stroke="#555555" stroke-width="1.3"/>
<polygon points="303.01,133.87 313.05,133.68 313.25,143.83 303.21,144.02" fill="none" stroke="#555555" stroke-width="1.3"/>
<polygon points="313.05,133.68 323.09,133.49 323.29,143.64 313.25,143.83" fill="none" stroke="#555555" stroke-width="1.3"/>
<polygon points="172.69,146.50 182.73,146.31 182.92,156.46 172.88,156.65" fill="none" stroke="#555555" stroke-width="1.3"/>
<polygon points="182.73,146.31 192.77,146.12 192.96,156.27 182.92,156.46" fill="none" stroke="#555555" stroke-width="1.3"/>
<polygon points="192.77,146.12 202.81,145.93 203.00,156.08 192.96,156.27" fill="none" stroke="#555555" stroke-width="1.3"/>
<polygon points="202.81,145.93 212.85,145.74 213.04,155.89 203.00,156.08" fill="none" stroke="#555555" stroke-width="1.3"/>
<polygon points="212.85,145.74 222.89,145.55 223.08,155.70 213.04,155.89" fill="none" stroke="#555555" stroke-width="1.3"/>
<polygon points="222.89,145.55 232.93,145.36 233.12,155.51 223.08,155.70" fill="none" stroke="#555555" stroke-width="1.3"/>
<polygon points="232.93,145.36 242.97,145.16 243.16,155.31 233.12,155.51" fill="none" stroke="#555555" stroke-width="1.3"/>
<polygon points="242.97,145.16 253.01,144.97 253.20,155.12 243.16,155.31" fill="none" stroke="#555555" stroke-width="1.3"/>
<polygon points="253.01,144.97 263.05,144.78 263.24,154.93 253.20,155.12" fill="none" stroke="#555555" stroke-width="1.3"/>
<polygon points="263.05,144.78 273.09,144.59 273.28,154.74 263.24,154.93" fill="none" stroke="#555555" stroke-width="1.3"/>
<polygon points="273.09,144.59 283.13,144.40 283.32,154.55 273.28,154.74" fill="none" stroke="#555555" stroke-width="1.3"/>
<polygon points="283.13,144.40 293.17,144.21 293.36,154.36 283.32,154.55" fill="none" stroke="#555555" stroke-width="1.3"/>
<polygon points="293.17,144.21 303.21,144.02 303.40,154.17 293.36,154.36" fill="none" stroke="#555555" stroke-width="1.3"/>
<polygon points="303.21,144.02 313.25,143.83 313.44,153.98 303.40,154.17" fill="none" stroke="#555555" stroke-width="1.3"/>
<polygon points="313.25,143.83 323.29,143.64 323.48,153.79 313.44,153.98" fill="none" stroke="#555555" stroke-width="1.3"/>
<polygon points="172.88,156.65 182.92,156.46 183.11,166.61 173.07,166.80" fill="none" stroke="#555555" stroke-width="1.3"/>
<polygon points="182.92,156.46 192.96,156.27 193.15,166.42 183.11,166.61" fill="none" stroke="#555555" stroke-width="1.3"/>
<polygon points="192.96,156.27 203.00,156.08 203.19,166.23 193.15,166.42" fill="none" stroke="#555555" stroke-width="1.3"/>
<polygon points="203.00,156.08 213.04,155.89 213.23,166.04 203.19,166.23" fill="none" stroke="#555555" stroke-width="1.3"/>
<polygon points="213.04,155.89 223.08,155.70 223.27,165.85 213.23,166.04" fill="none" stroke="#555555" stroke-width="1.3"/>
<polygon points="223.08,155.70 233.12,155.51 233.31,165.66 223.27,165.85" fill="none" stroke="#555555" stroke-width="1.3"/>
<polygon points="233.12,155.51 243.16,155.31 243.35,165.46 233.31,165.66" fill="none" stroke="#555555" stroke-width="1.3"/>
<polygon points="243.16,155.31 253.20,155.12 253.39,165.27 243.35,165.46" fill="none" stroke="#555555" stroke-width="1.3"/>
<polygon points="253.20,155.12 263.24,154.93 263.43,165.08 253.39,165.27" fill="none" stroke="#555555" stroke-width="1.3"/>
<polygon points="263.24,154.93 273.28,154.74 273.47,164.89 263.43,165.08" fill="none" stroke="#555555" stroke-width="1.3"/>
<polygon points="273.28,154.74 283.32,154.55 283.51,164.70 273.47,164.89" fill="none" stroke="#555555" stroke-width="1.3"/>
<polygon points="283.32,154.55 293.36,154.36 293.55,164.51 283.51,164.70" fill="none" stroke="#555555" stroke-width="1.3"/>
<polygon points="293.36,154.36 303.40,154.17 303.59,164.32 293.55,164.51" fill="none" stroke="#555555" stroke-width="1.3"/>
<polygon points="303.40,154.17 313.44,153.98 313.63,164.13 303.59,164.32" fill="none" stroke="#555555" stroke-width="1.3"/>
<polygon points="313.44,153.98 323.48,153.79 323.67,163.94 313.63,164.13" fill="none" stroke="#555555" stroke-width="1.3"/>
<polygon points="173.07,166.80 183.11,166.61 183.30,176.76 173.26,176.95" fill="none" stroke="#555555" stroke-width="1.3"/>
<polygon points="183.11,166.61 193.15,166.42 193.34,176.57 183.30,176.76" fill="none" stroke="#555555" stroke-width="1.3"/>
<polygon points="193.15,166.42 203.19,166.23 203.38,176.38 193.34,176.57" fill="none" stroke="#555555" stroke-width="1.3"/>
<polygon points="203.19,166.23 213.23,166.04 213.42,176.19 203.38,176.38" fill="none" stroke="#555555" stroke-width="1.3"/>
<polygon points="213.23,166.04 223.27,165.85 223.46,176.00 213.42,176.19" fill="none" stroke="#555555" stroke-width="1.3"/>
<polygon points="223.27,165.85 233.31,165.66 233.50,175.81 223.46,176.00" fill="none" stroke="#555555" stroke-width="1.3"/>
<polygon points="233.31,165.66 243.35,165.46 243.54,175.61 233.50,175.81" fill="none" stroke="#555555" stroke-width="1.3"/>
<polygon points="243.35,165.46 253.39,165.27 253.58,175.42 243.54,175.61" fill="none" stroke="#555555" stroke-width="1.3"/>
<polygon points="253.39,165.27 263.43,165.08 263.62,175.23 253.58,175.42" fill="none" stroke="#555555" stroke-width="1.3"/>
<polygon points="263.43,165.08 273.47,164.89 273.66,175.04 263.62,175.23" fill="none" stroke="#555555" stroke-width="1.3"/>
<polygon points="273.47,164.89 283.51,164.70 283.70,174.85 273.66,175.04" fill="none" stroke="#555555" stroke-width="1.3"/>
<polygon points="283.51,164.70 293.55,164.51 293.74,174.66 283.70,174.85" fill="none" stroke="#555555" stroke-width="1.3"/>
<polygon points="293.55,164.51 303.59,164.32 303.78,174.47 293.74,174.66" fill="none" stroke="#555555" stroke-width="1.3"/>
<polygon points="303.59,164.32 313.63,164.13 313.82,174.28 303.78,174.47" fill="none" stroke="#555555" stroke-width="1.3"/>
<polygon points="313.63,164.13 323.67,163.94 323.86,174.09 313.82,174.28" fill="none" stroke="#555555" stroke-width="1.3"/>
<polygon points="323.67,163.94 333.71,163.75 333.90,173.90 323.86,174.09" fill="none" stroke="#555555" stroke-width="1.3"/>
<polygon points="183.30,176.76 193.34,176.57 193.54,186.72 183.50,186.91" fill="none" stroke="#555555" stroke-width="1.3"/>
<polygon points="193.34,176.57 203.38,176.38 203.58,186.53 193.54,186.72" fill="none" stroke="#555555" stroke-width="1.3"/>
<polygon points="203.38,176.38 213.42,176.19 213.62,186.34 203.58,186.53" fill="none" stroke="#555555" stroke-width="1.3"/>
<polygon points="213.42,176.19 223.46,176.00 223.66,186.15 213.62,186.34" fill="none" stroke="#555555" stroke-width="1.3"/>
<polygon points="223.46,176.00 233.50,175.81 233.70,185.96 223.66,186.15" fill="none" stroke="#555555" stroke-width="1.3"/>
<polygon points="233.50,175.81 243.54,175.61 243.74,185.76 233.70,185.96" fill="none" stroke="#555555" stroke-width="1.3"/>
<polygon points="243.54,175.61 253.58,175.42 253.78,185.57 243.74,185.76" fill="none" stroke="#555555" stroke-width="1.3"/>
<polygon points="253.58,175.42 263.62,175.23 263.82,185.38 253.78,185.57" fill="none" stroke="#555555" stroke-width="1.3"/>
<polygon points="263.62,175.23 273.66,175.04 273.86,185.19 263.82,185.38" fill="none" stroke="#555555" stroke-width="1.3"/>
<polygon points="273.66,175.04 283.70,174.85 283.90,185.00 273.86,185.19" fill="none" stroke="#555555" stroke-width="1.3"/>
<polygon points="283.70,174.85 293.74,174.66 293.94,184.81 283.90,185.00" fill="none" stroke="#555555" stroke-width="1.3"/>
<polygon points="293.74,174.66 303.78,174.47 303.98,184.62 293.94,184.81" fill="none" stroke="#555555" stroke-width="1.3"/>
<polygon points="303.78,174.47 313.82,174.28 314.02,184.43 303.98,184.62" fill="none" stroke="#555555" stroke-width="1.3"/>
<polygon points="313.82,174.28 323.86,174.09 324.06,184.24 314.02,184.43" fill="none" stroke="#555555" stroke-width="1.3"/>
<polygon points="323.86,174.09 333.90,173.90 334.10,184.05 324.06,184.24" fill="none" stroke="#555555" stroke-width="1.3"/>
<polygon points="183.50,186.91 193.54,186.72 193.73,196.87 183.69,197.06" fill="none" stroke="#555555" stroke-width="1.3"/>
<polygon points="193.54,186.72 203.58,186.53 203.77,196.68 193.73,196.87" fill="none" stroke="#555555" stroke-width="1.3"/>
<polygon points="203.58,186.53 213.62,186.34 213.81,196.49 203.77,196.68" fill="none" stroke="#555555" stroke-width="1.3"/>
<polygon points="213.62,186.34 223.66,186.15 223.85,196.30 213.81,196.49" fill="none" stroke="#555555" stroke-width="1.3"/>
<polygon points="223.66,186.15 233.70,185.96 233.89,196.11 223.85,196.30" fill="none" stroke="#555555" stroke-width="1.3"/>
<polygon points="233.70,185.96 243.74,185.76 243.93,195.91 233.89,196.11" fill="none" stroke="#555555" stroke-width="1.3"/>
<polygon points="243.74,185.76 253.78,185.57 253.97,195.72 243.93,195.91" fill="none" stroke="#555555" stroke-width="1.3"/>
<polygon points="253.78,185.57 263.82,185.38 264.01,195.53 253.97,195.72" fill="none" stroke="#555555" stroke-width="1.3"/>
<polygon points="263.82,185.38 273.86,185.19 274.05,195.34 264.01,195.53" fill="none" stroke="#555555" stroke-width="1.3"/>
<polygon points="273.86,185.19 283.90,185.00 284.09,195.15 274.05,195.34" fill="none" stroke="#555555" stroke-width="1.3"/>
<polygon points="283.90,185.00 293.94,184.81 294.13,194.96 284.09,195.15" fill="none" stroke="#555555" stroke-width="1.3"/>
<polygon points="293.94,184.81 303.98,184.62 304.17,194.77 294.13,194.96" fill="none" stroke="#555555" stroke-width="1.3"/>
<polygon points="303.98,184.62 314.02,184.43 314.21,194.58 304.17,194.77" fill="none" stroke="#555555" stroke-width="1.3"/>
<polygon points="314.02,184.43 324.06,184.24 324.25,194.39 314.21,194.58" fill="none" stroke="#555555" stroke-width="1.3"/>
<polygon points="324.06,184.24 334.10,184.05 334.29,194.20 324.25,194.39" fill="none" stroke="#555555" stroke-width="1.3"/>
<polygon points="183.69,197.06 193.73,196.87 193.92,207.02 183.88,207.21" fill="none" stroke="#555555" stroke-width="1.3"/>
<polygon points="193.73,196.87 203.77,196.68 203.96,206.83 193.92,207.02" fill="none" stroke="#555555" stroke-width="1.3"/>
<polygon points="203.77,196.68 213.81,196.49 214.00,206.64 203.96,206.83" fill="none" stroke="#555555" stroke-width="1.3"/>
<polygon points="213.81,196.49 223.85,196.30 224.04,206.45 214.00,206.64" fill="none" stroke="#555555" stroke-width="1.3"/>
<polygon points="223.85,196.30 233.89,196.11 234.08,206.26 224.04,206.45" fill="none" stroke="#555555" stroke-width="1.3"/>
<polygon points="233.89,196.11 243.93,195.91 244.12,206.06 234.08,206.26" fill="none" stroke="#555555" stroke-width="1.3"/>
<polygon points="243.93,195.91 253.97,195.72 254.16,205.87 244.12,206.06" fill="none" stroke="#555555" stroke-width="1.3"/>
<polygon points="253.97,195.72 264.01,195.53 264.20,205.68 254.16,205.87" fill="none" stroke="#555555" stroke-width="1.3"/>
<polygon points="264.01,195.53 274.05,195.34 274.24,205.49 264.20,205.68" fill="none" stroke="#555555" stroke-width="1.3"/>
<polygon points="274.05,195.34 284.09,195.15 284.28,205.30 274.24,205.49" fill="none" stroke="#555555" stroke-width="1.3"/>
<polygon points="284.09,195.15 294.13,194.96 294.32,205.11 284.28,205.30" fill="none" stroke="#555555" stroke-width="1.3"/>
<polygon points="294.13,194.96 304.17,194.77 304.36,204.92 294.32,205.11" fill="none" stroke="#555555" stroke-width="1.3"/>
<polygon points="304.17,194.77 314.21,194.58 314.40,204.73 304.36,204.92" fill="none" stroke="#555555" stroke-width="1.3"/>
<polygon points="314.21,194.58 324.25,194.39 324.44,204.54 314.40,204.73" fill="none" stroke="#555555" stroke-width="1.3"/>
<polygon points="324.25,194.39 334.29,194.20 334.48,204.35 324.44,204.54" fill="none" stroke="#555555" stroke-width="1.3"/>
<polygon points="183.88,207.21 193.92,207.02 194.12,217.17 184.08,217.36" fill="none" stroke="#555555" stroke-width="1.3"/>
<polygon points="193.92,207.02 203.96,206.83 204.16,216.98 194.12,217.17" fill="none" stroke="#555555" stroke-width="1.3"/>
<polygon points="203.96,206.83 214.00,206.64 214.20,216.79 204.16,216.98" fill="none" stroke="#555555" stroke-width="1.3"/>
<polygon points="214.00,206.64 224.04,206.45 224.24,216.60 214.20,216.79" fill="none" stroke="#555555" stroke-width="1.3"/>
<polygon points="224.04,206.45 234.08,206.26 234.28,216.41 224.24,216.60" fill="none" stroke="#555555" stroke-width="1.3"/>
<polygon points="234.08,206.26 244.12,206.06 244.32,216.21 234.28,216.41" fill="none" stroke="#555555" stroke-width="1.3"/>
<polygon points="244.12,206.06 254.16,205.87 254.36,216.02 244.32,216.21" fill="none" stroke="#555555" stroke-width="1.3"/>
<polygon points="254.16,205.87 264.20,205.68 264.40,215.83 254.36,216.02" fill="none" stroke="#555555" stroke-width="1.3"/>
<polygon points="264.20,205.68 274.24,205.49 274.44,215.64 264.40,215.83" fill="none" stroke="#555555" stroke-width="1.3"/>
<polygon points="274.24,205.49 284.28,205.30 284.48,215.45 274.44,215.64" fill="none" stroke="#555555" stroke-width="1.3"/>
<polygon points="284.28,205.30 294.32,205.11 294.52,215.26 284.48,215.45" fill="none" stroke="#555555" stroke-width="1.3"/>
<polygon points="294.32,205.11 304.36,204.92 304.56,215.07 294.52,215.26" fill="none" stroke="#555555" stroke-width="1.3"/>
<polygon points="304.36,204.92 314.40,204.73 314.60,214.88 304.56,215.07" fill="none" stroke="#555555" stroke-width="1.3"/>
<polygon points="314.40,204.73 324.44,204.54 324.64,214.69 314.60,214.88" fill="none" stroke="#555555" stroke-width="1.3"/>
<polygon points="194.12,217.17 204.16,216.98 204.35,227.13 194.31,227.32" fill="none" stroke="#555555" stroke-width="1.3"/>
<polygon points="204.16,216.98 214.20,216.79 214.39,226.94 204.35,227.13" fill="none" stroke="#555555" stroke-width="1.3"/>
<polygon points="214.20,216.79 224.24,216.60 224.43,226.75 214.39,226.94" fill="none" stroke="#555555" stroke-width="1.3"/>
<polygon points="224.24,216.60 234.28,216.41 234.47,226.56 224.43,226.75" fill="none" stroke="#555555" stroke-width="1.3"/>
<polygon points="234.28,216.41 244.32,216.21 244.51,226.36 234.47,226.56" fill="none" stroke="#555555" stroke-width="1.3"/>
<polygon points="244.32,216.21 254.36,216.02 254.55,226.17 244.51,226.36" fill="none" stroke="#555555" stroke-width="1.3"/>
<polygon points="254.36,216.02 264.40,215.83 264.59,225.98 254.55,226.17" fill="none" stroke="#555555" stroke-width="1.3"/>
<polygon points="264.40,215.83 274.44,215.64 274.63,225.79 264.59,225.98" fill="none" stroke="#555555" stroke-width="1.3"/>
<polygon points="274.44,215.64 284.48,215.45 284.67,225.60 274.63,225.79" fill="none" stroke="#555555" stroke-width="1.3"/>
<polygon points="284.48,215.45 294.52,215.26 294.71,225.41 284.67,225.60" fill="none" stroke="#555555" stroke-width="1.3"/>
<polygon points="294.52,215.26 304.56,215.07 304.75,225.22 294.71,225.41" fill="none" stroke="#555555" stroke-width="1.3"/>
<polygon points="304.56,215.07 314.60,214.88 314.79,225.03 304.75,225.22" fill="none" stroke="#555555" stroke-width="1.3"/>
<polygon points="214.39,226.94 224.43,226.75 224.62,236.90 214.58,237.09" fill="none" stroke="#555555" stroke-width="1.3"/>
<polygon points="224.43,226.75 234.47,226.56 234.66,236.71 224.62,236.90" fill="none" stroke="#555555" stroke-width="1.3"/>
<polygon points="234.47,226.56 244.51,226.36 244.70,236.51 234.66,236.71" fill="none" stroke="#555555" stroke-width="1.3"/>
<polygon points="244.51,226.36 254.55,226.17 254.74,236.32 244.70,236.51" fill="none" stroke="#555555" stroke-width="1.3"/>
<polygon points="254.55,226.17 264.59,225.98 264.78,236.13 254.74,236.32" fill="none" stroke="#555555" stroke-width="1.3"/>
<polygon points="264.59,225.98 274.63,225.79 274.82,235.94 264.78,236.13" fill="none" stroke="#555555" stroke-width="1.3"/>
<polygon points="274.63,225.79 284.67,225.60 284.86,235.75 274.82,235.94" fill="none" stroke="#555555" stroke-width="1.3"/>
<polygon points="284.67,225.60 294.71,225.41 294.90,235.56 284.86,235.75" fill="none" stroke="#555555" stroke-width="1.3"/>
<polygon points="294.71,225.41 304.75,225.22 304.94,235.37 294.90,235.56" fill="none" stroke="#555555" stroke-width="1.3"/>
<polygon points="304.75,225.22 314.79,225.03 314.98,235.18 304.94,235.37" fill="none" stroke="#555555" stroke-width="1.3"/>
<circle cx="178.4" cy="131.0" r="1.8" fill="#0f2a5e"/>
<circle cx="188.4" cy="131.0" r="1.8" fill="#0f2a5e"/>
<circle cx="195.2" cy="128.2" r="1.8" fill="#0f2a5e"/>
<circle cx="206.6" cy="130.6" r="1.8" fill="#0f2a5e"/>
<circle cx="219.2" cy="130.2" r="1.8" fill="#0f2a5e"/>
<circle cx="228.8" cy="128.2" r="1.8" fill="#0f2a5e"/>
<circle cx="237.6" cy="130.4" r="1.8" fill="#0f2a5e"/>
<circle cx="245.6" cy="128.8" r="1.8" fill="#0f2a5e"/>
<circle cx="177.4" cy="139.0" r="1.8" fill="#0f2a5e"/>
<circle cx="186.6" cy="142.4" r="1.8" fill="#0f2a5e"/>
<circle cx="207.0" cy="140.2" r="1.8" fill="#0f2a5e"/>
<circle cx="218.2" cy="139.0" r="1.8" fill="#0f2a5e"/>
<circle cx="228.8" cy="139.4" r="1.8" fill="#0f2a5e"/>
<circle cx="237.6" cy="139.4" r="1.8" fill="#0f2a5e"/>
<circle cx="248.4" cy="138.0" r="1.8" fill="#0f2a5e"/>
<circle cx="257.2" cy="140.6" r="1.8" fill="#0f2a5e"/>
<circle cx="269.0" cy="136.4" r="1.8" fill="#0f2a5e"/>
<circle cx="267.6" cy="140.0" r="1.8" fill="#0f2a5e"/>
<circle cx="275.4" cy="141.4" r="1.8" fill="#0f2a5e"/>
<circle cx="288.6" cy="139.4" r="1.8" fill="#0f2a5e"/>
<circle cx="298.0" cy="139.4" r="1.8" fill="#0f2a5e"/>
<circle cx="306.4" cy="135.8" r="1.8" fill="#0f2a5e"/>
<circle cx="317.4" cy="139.0" r="1.8" fill="#0f2a5e"/>
<circle cx="178.6" cy="152.6" r="1.8" fill="#0f2a5e"/>
<circle cx="187.4" cy="152.6" r="1.8" fill="#0f2a5e"/>
<circle cx="197.0" cy="150.2" r="1.8" fill="#0f2a5e"/>
<circle cx="207.6" cy="148.4" r="1.8" fill="#0f2a5e"/>
<circle cx="218.6" cy="152.0" r="1.8" fill="#0f2a5e"/>
<circle cx="229.0" cy="148.6" r="1.8" fill="#0f2a5e"/>
<circle cx="237.0" cy="153.8" r="1.8" fill="#0f2a5e"/>
<circle cx="247.2" cy="150.4" r="1.8" fill="#0f2a5e"/>
<circle cx="255.4" cy="151.0" r="1.8" fill="#0f2a5e"/>
<circle cx="266.8" cy="149.6" r="1.8" fill="#0f2a5e"/>
<circle cx="276.6" cy="148.4" r="1.8" fill="#0f2a5e"/>
<circle cx="289.0" cy="149.4" r="1.8" fill="#0f2a5e"/>
<circle cx="297.2" cy="147.2" r="1.8" fill="#0f2a5e"/>
<circle cx="318.4" cy="149.6" r="1.8" fill="#0f2a5e"/>
<circle cx="178.4" cy="161.0" r="1.8" fill="#0f2a5e"/>
<circle cx="186.4" cy="161.0" r="1.8" fill="#0f2a5e"/>
<circle cx="197.0" cy="159.4" r="1.8" fill="#0f2a5e"/>
<circle cx="208.4" cy="161.8" r="1.8" fill="#0f2a5e"/>
<circle cx="240.6" cy="162.6" r="1.8" fill="#0f2a5e"/>
<circle cx="245.6" cy="161.6" r="1.8" fill="#0f2a5e"/>
<circle cx="257.2" cy="158.6" r="1.8" fill="#0f2a5e"/>
<circle cx="261.6" cy="160.4" r="1.8" fill="#0f2a5e"/>
<circle cx="265.8" cy="160.4" r="1.8" fill="#0f2a5e"/>
<circle cx="279.4" cy="158.2" r="1.8" fill="#0f2a5e"/>
<circle cx="290.0" cy="157.8" r="1.8" fill="#0f2a5e"/>
<circle cx="298.2" cy="157.8" r="1.8" fill="#0f2a5e"/>
<circle cx="305.6" cy="159.0" r="1.8" fill="#0f2a5e"/>
<circle cx="316.6" cy="161.0" r="1.8" fill="#0f2a5e"/>
<circle cx="178.2" cy="171.8" r="1.8" fill="#0f2a5e"/>
<circle cx="189.4" cy="171.6" r="1.8" fill="#0f2a5e"/>
<circle cx="198.6" cy="173.0" r="1.8" fill="#0f2a5e"/>
<circle cx="205.8" cy="171.4" r="1.8" fill="#0f2a5e"/>
<circle cx="220.6" cy="169.0" r="1.8" fill="#0f2a5e"/>
<circle cx="226.6" cy="171.4" r="1.8" fill="#0f2a5e"/>
<circle cx="241.6" cy="171.0" r="1.8" fill="#0f2a5e"/>
<circle cx="247.8" cy="170.4" r="1.8" fill="#0f2a5e"/>
<circle cx="257.2" cy="169.4" r="1.8" fill="#0f2a5e"/>
<circle cx="268.0" cy="168.2" r="1.8" fill="#0f2a5e"/>
<circle cx="277.2" cy="169.8" r="1.8" fill="#0f2a5e"/>
<circle cx="286.8" cy="171.0" r="1.8" fill="#0f2a5e"/>
<circle cx="296.8" cy="168.8" r="1.8" fill="#0f2a5e"/>
<circle cx="305.6" cy="170.0" r="1.8" fill="#0f2a5e"/>
<circle cx="319.6" cy="167.6" r="1.8" fill="#0f2a5e"/>
<circle cx="328.6" cy="171.2" r="1.8" fill="#0f2a5e"/>
<circle cx="187.6" cy="182.0" r="1.8" fill="#0f2a5e"/>
<circle cx="198.0" cy="181.4" r="1.8" fill="#0f2a5e"/>
<circle cx="208.2" cy="180.6" r="1.8" fill="#0f2a5e"/>
<circle cx="219.2" cy="181.0" r="1.8" fill="#0f2a5e"/>
<circle cx="227.8" cy="181.4" r="1.8" fill="#0f2a5e"/>
<circle cx="236.2" cy="177.8" r="1.8" fill="#0f2a5e"/>
<circle cx="248.4" cy="179.0" r="1.8" fill="#0f2a5e"/>
<circle cx="266.8" cy="179.2" r="1.8" fill="#0f2a5e"/>
<circle cx="276.6" cy="181.0" r="1.8" fill="#0f2a5e"/>
<circle cx="286.6" cy="178.6" r="1.8" fill="#0f2a5e"/>
<circle cx="299.4" cy="182.0" r="1.8" fill="#0f2a5e"/>
<circle cx="309.2" cy="179.0" r="1.8" fill="#0f2a5e"/>
<circle cx="319.6" cy="177.2" r="1.8" fill="#0f2a5e"/>
<circle cx="329.2" cy="177.4" r="1.8" fill="#0f2a5e"/>
<circle cx="189.8" cy="193.0" r="1.8" fill="#0f2a5e"/>
<circle cx="199.2" cy="192.4" r="1.8" fill="#0f2a5e"/>
<circle cx="207.8" cy="190.8" r="1.8" fill="#0f2a5e"/>
<circle cx="218.2" cy="193.2" r="1.8" fill="#0f2a5e"/>
<circle cx="228.8" cy="190.6" r="1.8" fill="#0f2a5e"/>
<circle cx="238.0" cy="190.6" r="1.8" fill="#0f2a5e"/>
<circle cx="248.6" cy="190.0" r="1.8" fill="#0f2a5e"/>
<circle cx="257.6" cy="188.2" r="1.8" fill="#0f2a5e"/>
<circle cx="270.4" cy="190.2" r="1.8" fill="#0f2a5e"/>
<circle cx="282.4" cy="189.4" r="1.8" fill="#0f2a5e"/>
<circle cx="290.2" cy="190.2" r="1.8" fill="#0f2a5e"/>
<circle cx="295.4" cy="191.0" r="1.8" fill="#0f2a5e"/>
<circle cx="307.6" cy="192.0" r="1.8" fill="#0f2a5e"/>
<circle cx="318.4" cy="188.6" r="1.8" fill="#0f2a5e"/>
<circle cx="325.4" cy="187.8" r="1.8" fill="#0f2a5e"/>
<circle cx="190.2" cy="204.0" r="1.8" fill="#0f2a5e"/>
<circle cx="210.8" cy="201.4" r="1.8" fill="#0f2a5e"/>
<circle cx="218.6" cy="199.4" r="1.8" fill="#0f2a5e"/>
<circle cx="228.6" cy="201.0" r="1.8" fill="#0f2a5e"/>
<circle cx="240.4" cy="197.8" r="1.8" fill="#0f2a5e"/>
<circle cx="249.4" cy="198.2" r="1.8" fill="#0f2a5e"/>
<circle cx="258.4" cy="201.4" r="1.8" fill="#0f2a5e"/>
<circle cx="268.8" cy="201.6" r="1.8" fill="#0f2a5e"/>
<circle cx="278.8" cy="200.6" r="1.8" fill="#0f2a5e"/>
<circle cx="286.6" cy="199.2" r="1.8" fill="#0f2a5e"/>
<circle cx="298.6" cy="198.8" r="1.8" fill="#0f2a5e"/>
<circle cx="308.4" cy="200.6" r="1.8" fill="#0f2a5e"/>
<circle cx="316.6" cy="201.4" r="1.8" fill="#0f2a5e"/>
<circle cx="329.4" cy="200.0" r="1.8" fill="#0f2a5e"/>
<circle cx="190.0" cy="211.0" r="1.8" fill="#0f2a5e"/>
<circle cx="199.2" cy="212.6" r="1.8" fill="#0f2a5e"/>
<circle cx="209.6" cy="213.2" r="1.8" fill="#0f2a5e"/>
<circle cx="218.2" cy="208.4" r="1.8" fill="#0f2a5e"/>
<circle cx="230.4" cy="210.4" r="1.8" fill="#0f2a5e"/>
<circle cx="238.2" cy="210.2" r="1.8" fill="#0f2a5e"/>
<circle cx="247.6" cy="213.4" r="1.8" fill="#0f2a5e"/>
<circle cx="260.8" cy="213.4" r="1.8" fill="#0f2a5e"/>
<circle cx="270.4" cy="210.2" r="1.8" fill="#0f2a5e"/>
<circle cx="276.4" cy="208.6" r="1.8" fill="#0f2a5e"/>
<circle cx="292.0" cy="210.8" r="1.8" fill="#0f2a5e"/>
<circle cx="294.6" cy="211.8" r="1.8" fill="#0f2a5e"/>
<circle cx="301.4" cy="211.2" r="1.8" fill="#0f2a5e"/>
<circle cx="309.4" cy="211.4" r="1.8" fill="#0f2a5e"/>
<circle cx="317.2" cy="211.8" r="1.8" fill="#0f2a5e"/>
<circle cx="198.0" cy="223.4" r="1.8" fill="#0f2a5e"/>
<circle cx="211.0" cy="222.6" r="1.8" fill="#0f2a5e"/>
<circle cx="218.2" cy="222.4" r="1.8" fill="#0f2a5e"/>
<circle cx="228.4" cy="223.0" r="1.8" fill="#0f2a5e"/>
<circle cx="238.8" cy="220.2" r="1.8" fill="#0f2a5e"/>
<circle cx="247.6" cy="223.0" r="1.8" fill="#0f2a5e"/>
<circle cx="259.0" cy="221.2" r="1.8" fill="#0f2a5e"/>
<circle cx="270.8" cy="221.8" r="1.8" fill="#0f2a5e"/>
<circle cx="278.4" cy="221.4" r="1.8" fill="#0f2a5e"/>
<circle cx="288.4" cy="221.4" r="1.8" fill="#0f2a5e"/>
<circle cx="307.8" cy="218.8" r="1.8" fill="#0f2a5e"/>
<circle cx="218.8" cy="230.6" r="1.8" fill="#0f2a5e"/>
<circle cx="230.4" cy="229.8" r="1.8" fill="#0f2a5e"/>
<circle cx="238.8" cy="231.0" r="1.8" fill="#0f2a5e"/>
<circle cx="249.2" cy="232.6" r="1.8" fill="#0f2a5e"/>
<circle cx="257.8" cy="231.4" r="1.8" fill="#0f2a5e"/>
<circle cx="272.2" cy="232.8" r="1.8" fill="#0f2a5e"/>
<circle cx="279.6" cy="232.0" r="1.8" fill="#0f2a5e"/>
<circle cx="290.8" cy="229.0" r="1.8" fill="#0f2a5e"/>
<circle cx="302.2" cy="230.0" r="1.8" fill="#0f2a5e"/>
<circle cx="311.2" cy="230.2" r="1.8" fill="#0f2a5e"/>
</g>
<path d="M 60.10,251.80 L 60.05,246.17 L 60.15,240.53 L 60.39,234.90 L 60.78,229.28 L 61.32,223.68 L 62.00,218.09 L 62.83,212.51 L 63.81,206.97 L 64.93,201.45 L 66.19,195.96 L 67.59,190.51 L 69.14,185.09 L 70.83,179.73 L 72.65,174.40 L 74.62,169.13 L 76.72,163.91 L 78.96,158.75 L 81.33,153.65 L 83.83,148.62 L 86.47,143.65 L 89.23,138.76 L 92.12,133.94 L 95.13,129.20 L 98.27,124.54 L 101.53,119.97 L 104.90,115.48 L 108.39,111.09 L 112.00,106.79 L 115.71,102.59 L 119.53,98.49 L 123.46,94.49 L 127.50,90.60 L 131.63,86.82 L 135.86,83.15 L 140.18,79.59 L 144.60,76.15 L 149.10,72.83 L 153.69,69.63 L 158.36,66.55 L 163.11,63.60 L 167.93,60.77 L 172.83,58.08 L 177.79,55.51 L 182.83,53.08 L 187.92,50.79 L 193.07,48.63 L 198.27,46.61 L 203.53,44.72 L 208.83,42.98 L 214.18,41.38 L 219.56,39.93 L 224.99,38.61 L 230.44,37.45 L 235.92,36.42 L 241.43,35.55 L 246.96,34.82 L 252.51,34.24 L 258.07,33.80 L 263.63,33.52 L 269.21,33.38 L 274.79,33.40 L 280.36,33.56 L 285.93,33.86 L 291.48,34.32 L 297.03,34.93 L 302.55,35.68 L 308.06,36.58 L 313.54,37.62 L 318.99,38.81 L 324.40,40.15 L 329.78,41.63 L 335.12,43.25 L 340.42,45.02 L 345.67,46.92 L 350.86,48.96 L 356.00,51.15 L 361.09,53.46 L 366.11,55.92 L 371.06,58.50 L 375.95,61.22 L 380.76,64.06 L 385.49,67.03 L 390.15,70.13 L 394.73,73.35 L 399.22,76.69 L 403.62,80.15 L 407.93,83.73 L 412.14,87.42 L 416.26,91.22 L 420.27,95.13 L 424.19,99.14 L 427.99,103.26 L 431.69,107.48 L 435.28,111.79 L 438.75,116.20 L 442.11,120.70 L 445.34,125.28 L 448.46,129.95 L 451.45,134.71 L 454.32,139.54 L 457.06,144.44 L 459.68,149.42 L 462.16,154.47 L 464.51,159.57 L 466.73,164.74 L 468.81,169.97 L 470.75,175.25 L 472.55,180.58 L 474.22,185.96 L 475.74,191.38 L 477.12,196.84 L 478.36,202.33 L 479.46,207.85 L 480.41,213.41 L 481.22,218.98 L 481.88,224.58 L 482.39,230.19 L 482.76,235.81 L 482.98,241.44 L 483.05,247.07 Z" fill="none" stroke="#383838" stroke-width="2.6" stroke-linejoin="miter"/>
<polygon points="265,249.4 268.5,242.6 275.3,242.6 278.8,249.4 275.3,256.2 268.5,256.2" fill="#424242"/>
<rect x="285.6" y="246" width="9.6" height="9.8" fill="none" stroke="#666" stroke-width="1.3"/>
<circle cx="290.6" cy="247.4" r="1.8" fill="#0f2a5e"/>
<polygon points="198.50,135.20 200.15,138.53 203.83,139.07 201.16,141.67 201.79,145.33 198.50,143.60 195.21,145.33 195.84,141.67 193.17,139.07 196.85,138.53" fill="#f2a07c"/>
<polygon points="309.60,146.00 311.25,149.33 314.93,149.87 312.26,152.47 312.89,156.13 309.60,154.40 306.31,156.13 306.94,152.47 304.27,149.87 307.95,149.33" fill="#f2a07c"/>
<polygon points="257.60,173.40 259.25,176.73 262.93,177.27 260.26,179.87 260.89,183.53 257.60,181.80 254.31,183.53 254.94,179.87 252.27,177.27 255.95,176.73" fill="#f2a07c"/>
<polygon points="198.40,197.00 200.05,200.33 203.73,200.87 201.06,203.47 201.69,207.13 198.40,205.40 195.11,207.13 195.74,203.47 193.07,200.87 196.75,200.33" fill="#f2a07c"/>
<polygon points="299.00,213.60 300.65,216.93 304.33,217.47 301.66,220.07 302.29,223.73 299.00,222.00 295.71,223.73 296.34,220.07 293.67,217.47 297.35,216.93" fill="#f2a07c"/>
<circle cx="226" cy="159.5" r="7.1" fill="#6a3369"/>
<polygon points="226.00,153.90 227.70,157.35 231.52,157.91 228.76,160.60 229.41,164.39 226.00,162.60 222.59,164.39 223.24,160.60 220.48,157.91 224.30,157.35" fill="#f2a07c"/>
<g stroke="#444" stroke-width="1.5" fill="none"><line x1="363.2" y1="227.4" x2="435.6" y2="227.4"/><line x1="363.2" y1="224" x2="363.2" y2="231"/><line x1="435.6" y1="224" x2="435.6" y2="231"/></g>
<text x="368.2" y="225.8" font-size="10.1" fill="#333">10 km</text>
<rect x="50.5" y="24.5" width="444.0" height="237.0" fill="none" stroke="#8a8a8a" stroke-width="1"/>
<line x1="91.5" y1="19.5" x2="91.5" y2="24" stroke="#666" stroke-width="1"/>
<text x="94.4" y="13" font-size="10.4" fill="#333" text-anchor="end">15.6</text>
<circle cx="97.80" cy="6.30" r="0.85" fill="none" stroke="#555" stroke-width="0.7"/>
<text x="102.2" y="13" font-size="10.4" fill="#333">E</text>
<line x1="198.6" y1="19.5" x2="198.6" y2="24" stroke="#666" stroke-width="1"/>
<text x="201.5" y="13" font-size="10.4" fill="#333" text-anchor="end">15.8</text>
<circle cx="204.90" cy="6.30" r="0.85" fill="none" stroke="#555" stroke-width="0.7"/>
<text x="209.3" y="13" font-size="10.4" fill="#333">E</text>
<line x1="305.7" y1="19.5" x2="305.7" y2="24" stroke="#666" stroke-width="1"/>
<text x="308.6" y="13" font-size="10.4" fill="#333" text-anchor="end">16.0</text>
<circle cx="312.00" cy="6.30" r="0.85" fill="none" stroke="#555" stroke-width="0.7"/>
<text x="316.4" y="13" font-size="10.4" fill="#333">E</text>
<line x1="412.5" y1="19.5" x2="412.5" y2="24" stroke="#666" stroke-width="1"/>
<text x="415.4" y="13" font-size="10.4" fill="#333" text-anchor="end">16.2</text>
<circle cx="418.80" cy="6.30" r="0.85" fill="none" stroke="#555" stroke-width="0.7"/>
<text x="423.2" y="13" font-size="10.4" fill="#333">E</text>
<line x1="46" y1="47.4" x2="50.5" y2="47.4" stroke="#666" stroke-width="1"/>
<text x="25.2" y="51.8" font-size="10.4" fill="#333" text-anchor="end">47.1</text>
<circle cx="29.20" cy="44.90" r="0.85" fill="none" stroke="#555" stroke-width="0.7"/>
<text x="40.7" y="51.8" font-size="10.4" fill="#333" text-anchor="end">N</text>
<line x1="46" y1="127.7" x2="50.5" y2="127.7" stroke="#666" stroke-width="1"/>
<text x="25.2" y="132.1" font-size="10.4" fill="#333" text-anchor="end">47.0</text>
<circle cx="29.20" cy="125.20" r="0.85" fill="none" stroke="#555" stroke-width="0.7"/>
<text x="40.7" y="132.1" font-size="10.4" fill="#333" text-anchor="end">N</text>
<line x1="46" y1="207.7" x2="50.5" y2="207.7" stroke="#666" stroke-width="1"/>
<text x="25.2" y="212.1" font-size="10.4" fill="#333" text-anchor="end">46.9</text>
<circle cx="29.20" cy="205.20" r="0.85" fill="none" stroke="#555" stroke-width="0.7"/>
<text x="40.7" y="212.1" font-size="10.4" fill="#333" text-anchor="end">N</text>
<polygon points="106,279 120.8,273.4 120.8,284.6" fill="#ffffff" stroke="none"/>
<rect x="120.80" y="273.4" width="43.69" height="11.2" fill="#eceef1"/>
<rect x="164.19" y="273.4" width="43.69" height="11.2" fill="#c8cfd9"/>
<rect x="207.58" y="273.4" width="43.69" height="11.2" fill="#a8b2c1"/>
<rect x="250.97" y="273.4" width="43.69" height="11.2" fill="#8897ab"/>
<rect x="294.36" y="273.4" width="43.69" height="11.2" fill="#6a7b95"/>
<rect x="337.75" y="273.4" width="43.69" height="11.2" fill="#4b5e7e"/>
<rect x="381.14" y="273.4" width="43.69" height="11.2" fill="#2d4468"/>
<polygon points="424.5,273.4 440.2,279 424.5,284.6" fill="#1a335c"/>
<polygon points="106,279 120.8,273.4 424.5,273.4 440.2,279 424.5,284.6 120.8,284.6" fill="none" stroke="#777" stroke-width="0.9"/>
<line x1="120.8" y1="284.6" x2="120.8" y2="289.8" stroke="#888" stroke-width="1"/>
<text x="120.8" y="301.8" font-size="10.4" fill="#333" text-anchor="middle">250</text>
<line x1="164.2" y1="284.6" x2="164.2" y2="289.8" stroke="#888" stroke-width="1"/>
<text x="164.2" y="301.8" font-size="10.4" fill="#333" text-anchor="middle">300</text>
<line x1="207.6" y1="284.6" x2="207.6" y2="289.8" stroke="#888" stroke-width="1"/>
<text x="207.6" y="301.8" font-size="10.4" fill="#333" text-anchor="middle">350</text>
<line x1="251.0" y1="284.6" x2="251.0" y2="289.8" stroke="#888" stroke-width="1"/>
<text x="251.0" y="301.8" font-size="10.4" fill="#333" text-anchor="middle">400</text>
<line x1="294.4" y1="284.6" x2="294.4" y2="289.8" stroke="#888" stroke-width="1"/>
<text x="294.4" y="301.8" font-size="10.4" fill="#333" text-anchor="middle">450</text>
<line x1="337.8" y1="284.6" x2="337.8" y2="289.8" stroke="#888" stroke-width="1"/>
<text x="337.8" y="301.8" font-size="10.4" fill="#333" text-anchor="middle">500</text>
<line x1="381.1" y1="284.6" x2="381.1" y2="289.8" stroke="#888" stroke-width="1"/>
<text x="381.1" y="301.8" font-size="10.4" fill="#333" text-anchor="middle">550</text>
<line x1="424.5" y1="284.6" x2="424.5" y2="289.8" stroke="#888" stroke-width="1"/>
<text x="424.5" y="301.8" font-size="10.4" fill="#333" text-anchor="middle">600</text>
<text x="272.8" y="319.8" font-size="13" fill="#333" text-anchor="middle">elevation (m)</text>
<polygon points="19,341.3 22.6,335.1 29.8,335.1 33.4,341.3 29.8,347.5 22.6,347.5" fill="#424242"/>
<circle cx="26.6" cy="363.5" r="7.2" fill="#6a3369"/>
<polygon points="26.30,376.60 28.47,381.01 33.34,381.71 29.82,385.14 30.65,389.99 26.30,387.70 21.95,389.99 22.78,385.14 19.26,381.71 24.13,381.01" fill="#f2a07c"/>
<circle cx="26.5" cy="398.9" r="1.8" fill="#0f2a5e"/>
<text x="46" y="345.4" font-size="10.6" fill="#333">X-band Precipitation Radar (XPR)</text>
<text x="46" y="360.5" font-size="10.6" fill="#333">Tropospheric Sounding Radiometer (TSR)</text>
<text x="46" y="371.8" font-size="10.6" fill="#333">and Cloud Structure Radiometer (CSR)</text>
<text x="46" y="387.4" font-size="10.6" fill="#333">WEGN-GNSS StarNet (WSN)</text>
<text x="46" y="403.0" font-size="10.6" fill="#333">WEGN-CSN FBR</text>
<polygon points="283.5,388 284.5,382.4 287.2,381.6 289.6,380 290.9,379.5 292,382 295.2,384 297.6,386.4 300.8,388.8 300.5,392 302.4,392 306.4,388 308,382.4 312,382.4 318.4,384.8 320.8,388 324,388.8 328,388.3 330,387.2 333.6,385.4 338.4,383 345.6,381.8 352.8,380.6 354.6,377.6 355.8,377 357,379.4 360.6,380 363,381.2 366,380 369.6,381.2 370.2,384.2 373.8,386.6 376.2,387.8 377.4,383 376.8,379.4 375.3,374.4 374,371.2 371.6,367.2 369.5,363.2 371.6,360 375.6,357.6 382,356 386.8,352.8 388,346.4 390,344.8 394.8,346.4 396.9,344.8 398,337.6 399.6,337.3 402.8,340.8 404.4,344 410,345.6 414,342.4 417.2,344 420.4,342.4 421.6,338.2 424.8,336.6 427.2,335.8 428,328.6 429.3,327.5 432,329.1 436,328.6 440.8,331 445.6,332.6 449.6,334.2 453.6,336.6 457.6,338.2 462.4,338.2 466.4,335.8 469.6,336.6 472.8,339 476.8,339 478.4,344.6 476.8,349.4 476,353.4 478.4,356.6 480.8,361.4 483.2,364.6 484,367.8 482.7,371.8 482.4,373.2 481.6,378 476,378.8 471.2,377.2 467.2,380.4 468.8,382.8 472,385.2 471.2,389.2 468,391.6 466.4,395.6 467.2,400.4 467.7,403.6 464.8,406.8 461.6,410 457.6,413.2 456,416.4 454.4,418 452.8,418.8 448,419.6 443.2,421.2 436,421.2 429.6,422.8 426.8,423.2 423.6,424.8 418.8,428 415.6,431.5 412.4,429.6 407.6,428.8 401.2,428 394.8,426.4 386.8,424.8 378.8,424 369.2,422.4 362.8,420 358,417.6 356.4,413.6 353.2,409.6 351.6,406.4 352.4,404 350,403.2 344,404.8 336,405.6 328,407.2 324,408 322.4,412 318.4,412.8 311.2,411.2 306.4,408 304,405.6 300.8,407.2 297.6,408.8 292.8,405.6 289.6,401.6 284.8,398.4 283.2,392" fill="#1a355c"/>
<rect x="442.4" y="403.3" width="21.6" height="10.2" fill="none" stroke="#8a8680" stroke-width="3"/>
</svg></body></html>
